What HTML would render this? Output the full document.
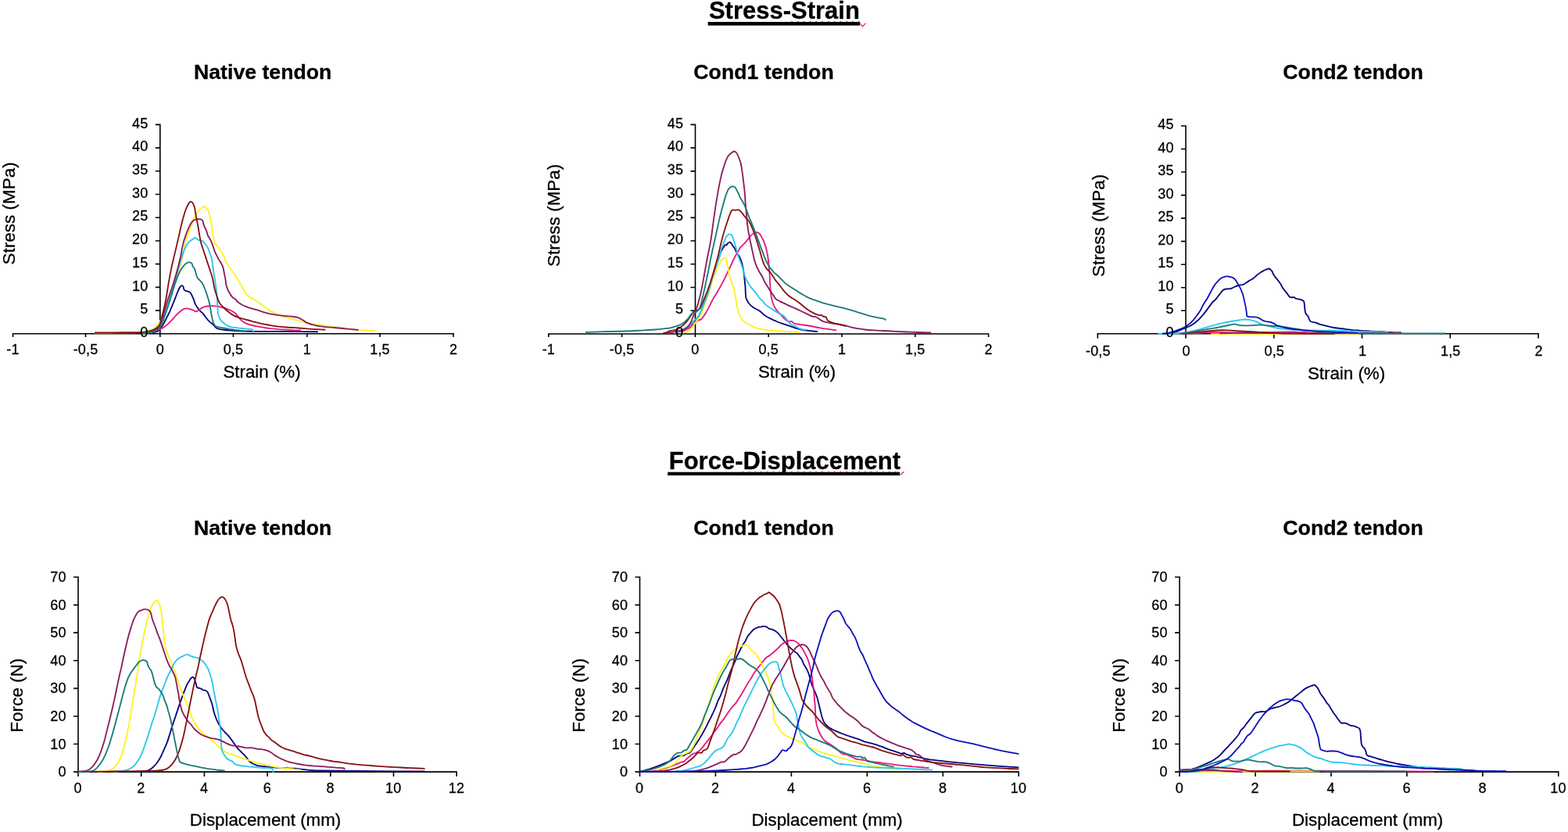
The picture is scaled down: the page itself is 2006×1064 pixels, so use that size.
<!DOCTYPE html>
<html lang="en">
<head>
<meta charset="utf-8">
<title>Stress-Strain and Force-Displacement curves</title>
<style>
html,body{margin:0;padding:0;background:#fff;}
body{width:2006px;height:1064px;overflow:hidden;}
svg{display:block;}
text{font-family:"Liberation Sans", Arial, Helvetica, sans-serif;fill:#000;stroke:#000;stroke-width:0.3px;stroke-linejoin:round;}
.tk{font-size:18px;letter-spacing:0.15px;}
.ax{font-size:22.3px;}
.ay{font-size:22.3px;letter-spacing:0.1px;}
.ti{font-size:26.7px;font-weight:bold;}
.se{font-size:31.0px;font-weight:bold;}
.c{fill:none;stroke-width:1.85;stroke-linejoin:round;stroke-linecap:butt;}
.a{fill:none;stroke:#000;stroke-width:1.6;}
</style>
</head>
<body>
<svg width="2006" height="1064" viewBox="0 0 2006 1064" role="img" aria-label="Stress-Strain and Force-Displacement curves for native, Cond1 and Cond2 tendons">
<rect x="0" y="0" width="2006" height="1064" fill="#fff"/>

<text class="se" x="1003.4" y="23.5" text-anchor="middle">Stress-Strain</text>
<rect x="905.7" y="28.0" width="194.4" height="4.6" fill="#000"/>
<path d="M1012.3,27.7H1099.5" stroke="#e0201c" stroke-width="1.3" stroke-dasharray="1.5 6.3" fill="none"/>
<path d="M1100.2,29.9L1103.6,33.8L1107.4,29.6" stroke="#e0201c" stroke-width="1.2" fill="none"/>
<text class="se" x="1003.9" y="600.4" text-anchor="middle">Force-Displacement</text>
<rect x="854.2" y="603.7" width="297.0" height="4.3" fill="#000"/>
<path d="M949.8,603.4H1150.5" stroke="#e0201c" stroke-width="1.3" stroke-dasharray="1.5 6.3" fill="none"/>
<path d="M1152.0,607.4L1156.3,603.2" stroke="#e0201c" stroke-width="1.2" fill="none"/>
<g id="chart1">
<path class="a" d="M204.8,158.60V430.90M15.70,426.8H581.00M198.80,426.80H204.8M198.80,397.09H204.8M198.80,367.38H204.8M198.80,337.67H204.8M198.80,307.96H204.8M198.80,278.24H204.8M198.80,248.53H204.8M198.80,218.82H204.8M198.80,189.11H204.8M198.80,159.40H204.8M16.50,426.8V430.90M109.50,426.8V430.90M204.80,426.8V430.90M298.40,426.8V430.90M392.90,426.8V430.90M486.00,426.8V430.90M580.00,426.8V430.90"/>
<path class="c" stroke="#06067f" d="M183.5,425.9C184.9,425.8 189.9,425.8 192.2,425.6C194.6,425.5 196.1,425.3 197.8,424.9C199.4,424.5 200.7,424.3 202.0,423.4C203.4,422.5 204.5,421.2 205.8,419.6C207.0,418.0 208.3,415.9 209.6,413.6C210.8,411.4 212.1,408.6 213.3,406.1C214.6,403.6 215.8,401.3 217.1,398.6C218.3,395.8 219.6,392.5 220.8,389.6C222.1,386.6 223.3,383.6 224.4,380.8C225.5,378.0 226.6,374.9 227.6,372.5C228.6,370.2 229.7,367.9 230.6,366.6C231.5,365.4 232.2,365.1 232.9,365.1C233.5,365.1 233.9,365.7 234.4,366.6C234.8,367.5 235.0,369.5 235.5,370.4C236.0,371.3 236.6,371.5 237.4,371.9C238.1,372.3 239.1,372.4 240.0,372.6C240.9,372.9 241.8,372.8 242.6,373.4C243.4,374.0 244.1,375.0 244.7,376.1C245.3,377.2 245.9,378.5 246.5,379.9C247.1,381.2 247.7,382.7 248.3,384.3C248.9,385.9 249.3,387.9 250.2,389.6C251.0,391.2 252.2,392.7 253.2,394.1C254.2,395.4 255.0,396.6 256.2,397.8C257.3,399.0 258.8,399.9 259.9,401.2C261.0,402.5 261.9,404.0 262.9,405.3C263.9,406.7 264.9,408.0 265.9,409.1C266.9,410.2 267.8,411.1 268.9,412.1C270.1,413.1 271.6,414.0 272.7,415.1C273.8,416.2 274.7,417.6 275.7,418.5C276.7,419.4 277.2,419.9 278.7,420.4C280.2,420.9 282.0,421.1 284.7,421.5C287.5,421.9 291.0,422.3 295.3,422.6C299.5,423.0 305.3,423.3 310.3,423.5C315.3,423.7 320.2,423.7 325.3,423.8C330.5,423.8 334.5,423.8 341.4,423.8C348.3,423.8 355.9,423.9 366.8,423.9C377.7,424.0 400.1,424.2 406.8,424.2"/>
<path class="c" stroke="#e8187f" d="M185.0,425.9C186.5,425.7 191.7,425.2 194.3,424.6C196.9,424.1 199.0,423.1 200.8,422.5C202.6,421.8 203.6,421.4 205.0,420.8C206.5,420.1 207.9,419.6 209.6,418.5C211.2,417.4 213.1,415.9 214.8,414.4C216.6,412.8 218.3,411.0 220.1,409.1C221.8,407.2 223.6,404.9 225.3,403.1C227.1,401.3 229.0,399.5 230.6,398.2C232.2,396.9 233.7,395.8 235.1,395.2C236.5,394.6 237.6,394.4 238.9,394.4C240.1,394.4 241.3,394.8 242.6,395.2C244.0,395.6 245.9,396.2 247.1,396.7C248.4,397.2 249.1,398.4 250.2,398.4C251.2,398.5 251.9,397.8 253.2,397.1C254.4,396.3 256.2,394.9 257.7,394.1C259.2,393.2 260.4,392.6 262.2,392.2C263.9,391.7 266.2,391.6 268.2,391.4C270.2,391.3 272.2,391.2 274.2,391.3C276.2,391.4 278.2,391.8 280.2,392.2C282.2,392.6 284.2,393.1 286.2,393.7C288.2,394.3 290.4,395.2 292.3,395.9C294.1,396.7 296.0,397.4 297.5,398.2C299.0,399.0 300.2,399.8 301.3,400.8C302.4,401.9 303.3,403.3 304.3,404.6C305.3,405.8 306.3,407.3 307.3,408.4C308.3,409.4 309.0,410.1 310.3,411.0C311.6,411.9 313.1,412.9 314.8,413.6C316.6,414.4 318.4,414.9 320.8,415.5C323.2,416.1 326.3,416.8 329.1,417.4C331.9,417.9 335.2,418.5 337.8,418.9C340.4,419.3 341.9,419.6 344.6,419.9C347.3,420.2 350.5,420.6 354.1,420.9C357.7,421.2 362.2,421.4 366.2,421.6C370.2,421.9 375.1,422.1 378.2,422.3C381.3,422.4 383.8,422.4 385.0,422.4"/>
<path class="c" stroke="#fff21f" d="M121.0,425.6C125.9,425.5 141.0,425.5 150.4,425.4C159.8,425.3 171.2,425.4 177.4,425.1C183.7,424.8 185.0,424.3 188.0,423.6C191.0,423.0 193.4,422.3 195.5,421.2C197.5,420.1 199.1,418.3 200.3,417.0C201.6,415.8 202.2,414.7 203.0,413.6C203.8,412.6 204.2,412.4 205.0,410.6C205.9,408.8 207.0,405.8 208.1,403.1C209.1,400.3 209.9,397.2 211.1,394.1C212.2,390.9 213.6,387.4 214.8,384.3C216.1,381.1 217.3,378.4 218.6,375.2C219.9,371.9 221.2,369.0 222.7,364.8C224.2,360.7 226.0,355.0 227.6,350.1C229.2,345.1 231.0,339.1 232.1,335.0C233.2,331.0 233.7,329.0 234.4,325.8C235.0,322.6 235.3,319.2 236.1,315.6C236.8,312.0 237.8,307.7 238.9,304.1C240.0,300.6 241.5,297.4 242.6,294.4C243.8,291.4 244.6,288.8 245.6,286.1C246.6,283.3 247.6,280.1 248.7,277.8C249.7,275.6 250.6,274.1 251.7,272.6C252.7,271.1 253.7,269.9 254.7,268.8C255.7,267.7 256.7,266.5 257.7,265.8C258.7,265.0 260.0,264.6 260.7,264.3C261.4,264.0 261.2,263.8 261.8,264.1C262.4,264.5 263.4,265.4 264.1,266.2C264.8,266.9 265.4,267.7 265.9,268.8C266.5,269.9 266.9,270.9 267.4,272.6C267.9,274.2 268.5,276.4 268.9,278.6C269.4,280.7 269.7,283.1 270.1,285.3C270.5,287.6 270.8,289.7 271.2,292.1C271.6,294.5 272.0,297.4 272.3,299.6C272.7,301.9 273.0,303.6 273.5,305.6C273.9,307.6 274.3,310.3 275.0,311.6C275.6,313.0 276.3,312.9 277.2,313.9C278.1,314.9 279.2,316.3 280.2,317.7C281.2,319.0 282.4,320.8 283.2,322.2C284.1,323.6 284.6,324.6 285.3,326.0C286.0,327.3 286.6,328.7 287.4,330.5C288.2,332.3 288.8,334.4 290.0,336.5C291.2,338.7 293.0,341.2 294.5,343.3C296.0,345.4 297.6,347.3 299.0,349.3C300.4,351.3 301.5,353.3 302.8,355.3C304.0,357.3 305.3,359.2 306.5,361.4C307.8,363.5 309.2,366.1 310.3,368.1C311.4,370.1 312.2,371.8 313.3,373.4C314.4,375.0 315.6,376.5 317.1,377.9C318.6,379.3 320.6,380.5 322.3,381.6C324.1,382.8 325.9,383.6 327.6,384.7C329.3,385.7 330.9,386.8 332.7,388.2C334.5,389.5 336.2,391.0 338.3,392.5C340.4,394.0 342.7,395.7 345.1,397.1C347.5,398.5 349.6,399.5 352.6,400.9C355.6,402.3 359.9,404.3 363.2,405.4C366.4,406.5 369.2,406.9 372.2,407.7C375.2,408.4 378.2,409.0 381.2,409.9C384.2,410.8 387.2,412.2 390.2,412.9C393.2,413.7 395.7,413.9 399.2,414.4C402.8,414.9 407.3,415.4 411.3,415.9C415.3,416.4 419.3,416.9 423.3,417.4C427.3,417.9 430.8,418.3 435.3,418.9C439.9,419.6 446.4,420.7 450.4,421.2C454.4,421.7 456.1,421.8 459.4,421.9C462.7,422.1 466.4,422.1 469.9,422.3C473.4,422.4 478.7,422.6 480.4,422.7"/>
<path class="c" stroke="#2cc6f0" d="M182.7,425.6C184.3,425.5 190.0,425.3 192.5,425.0C194.9,424.7 196.0,424.2 197.3,423.7C198.6,423.3 199.4,423.0 200.4,422.3C201.4,421.6 202.5,421.1 203.5,419.6C204.6,418.2 205.5,416.1 206.5,413.6C207.5,411.1 208.5,407.6 209.6,404.6C210.6,401.6 211.6,398.6 212.6,395.6C213.6,392.6 214.4,390.0 215.6,386.5C216.7,383.1 217.8,379.7 219.3,374.8C220.8,369.9 222.9,362.8 224.6,356.9C226.3,351.0 228.2,344.1 229.5,339.4C230.8,334.8 231.5,332.1 232.5,329.1C233.4,326.1 234.2,323.8 235.1,321.4C236.0,319.0 237.1,316.5 238.1,314.7C239.1,312.8 240.1,311.3 241.1,310.1C242.1,309.0 243.1,308.3 244.1,307.5C245.1,306.8 246.2,306.3 247.1,305.6C248.1,305.0 248.9,303.7 249.8,303.8C250.6,303.8 251.5,305.4 252.4,306.0C253.3,306.6 254.3,307.1 255.4,307.5C256.5,307.9 258.0,307.6 259.2,308.3C260.3,309.0 261.2,310.5 262.2,311.6C263.2,312.8 264.3,313.9 265.2,315.4C266.1,316.9 266.8,319.2 267.4,320.7C268.0,322.2 268.3,323.0 268.8,324.3C269.2,325.5 269.5,326.3 270.0,328.1C270.5,329.9 271.1,332.0 271.6,335.0C272.1,338.1 272.5,342.6 273.1,346.3C273.6,350.1 274.4,354.1 275.0,357.6C275.5,361.1 275.9,364.5 276.3,367.3C276.7,370.1 277.0,372.1 277.2,374.4C277.5,376.8 277.6,378.9 277.7,381.3C277.9,383.7 278.0,386.4 278.1,388.8C278.3,391.2 278.4,393.4 278.6,395.6C278.7,397.7 278.7,399.7 279.1,401.6C279.5,403.5 280.2,405.2 281.0,406.8C281.8,408.5 282.9,410.1 284.0,411.4C285.1,412.6 286.6,413.5 287.7,414.4C288.9,415.2 289.5,416.0 290.8,416.6C292.0,417.2 293.3,417.7 295.3,418.1C297.3,418.6 300.3,418.9 302.8,419.2C305.3,419.6 307.8,419.8 310.3,420.0C312.8,420.2 315.7,420.5 317.8,420.8C319.9,421.0 321.9,420.7 322.9,421.5C323.9,422.3 323.7,424.9 323.8,425.6"/>
<path class="c" stroke="#8c1c5e" d="M181.9,425.1C183.2,425.0 187.3,424.6 189.5,424.2C191.6,423.9 193.3,423.5 194.9,423.1C196.5,422.6 197.8,422.4 199.1,421.7C200.4,421.0 201.7,420.5 202.8,418.9C203.9,417.3 204.8,414.7 205.8,412.1C206.8,409.5 207.8,406.3 208.8,403.1C209.8,399.8 210.8,395.9 211.8,392.6C212.8,389.2 213.8,385.9 214.8,382.8C215.8,379.7 216.8,377.4 218.0,373.9C219.2,370.3 220.5,366.9 222.1,361.6C223.7,356.4 226.1,348.4 227.6,342.6C229.1,336.7 230.4,330.8 231.4,326.6C232.3,322.4 232.4,320.3 233.0,317.3C233.7,314.3 234.3,311.6 235.1,308.6C236.0,305.7 237.1,302.4 238.1,299.6C239.1,296.9 240.1,294.4 241.1,292.1C242.1,289.9 243.1,287.7 244.1,286.1C245.1,284.5 246.1,283.2 247.1,282.3C248.1,281.5 249.1,281.2 250.2,280.8C251.2,280.5 252.2,280.3 253.2,280.2C254.2,280.2 255.3,280.3 256.2,280.4C257.0,280.6 257.9,280.8 258.4,281.2C259.0,281.6 259.2,282.0 259.6,283.1C259.9,284.1 260.2,286.2 260.7,287.6C261.1,289.0 261.6,290.1 262.2,291.4C262.7,292.6 263.4,293.5 264.1,295.1C264.7,296.7 265.2,299.5 265.9,301.1C266.6,302.8 267.4,303.5 268.2,304.9C269.0,306.3 269.7,307.6 270.4,309.4C271.2,311.2 272.0,313.3 272.7,315.4C273.5,317.5 274.2,320.3 275.0,322.2C275.7,324.1 276.4,325.1 277.2,326.7C278.0,328.3 278.8,329.9 279.8,331.6C280.8,333.4 282.3,335.5 283.2,337.3C284.2,339.1 284.9,340.4 285.5,342.6C286.1,344.7 286.5,347.6 287.0,350.1C287.5,352.6 288.1,355.3 288.5,357.6C288.9,359.8 288.8,361.6 289.2,363.6C289.7,365.6 290.4,367.7 291.1,369.6C291.9,371.5 292.7,373.1 293.8,374.9C294.8,376.6 296.3,378.8 297.5,380.1C298.8,381.5 300.2,381.8 301.3,382.8C302.4,383.8 303.0,385.1 304.3,386.2C305.5,387.2 307.0,388.2 308.8,389.2C310.6,390.2 312.7,391.3 314.8,392.2C316.9,393.1 319.1,393.7 321.6,394.4C324.1,395.2 326.7,395.8 329.7,396.7C332.7,397.6 336.0,398.9 339.6,399.8C343.2,400.8 347.2,401.7 351.1,402.4C355.1,403.1 359.2,403.5 363.2,403.9C367.2,404.3 372.2,404.6 375.2,405.0C378.2,405.3 379.2,405.5 381.2,406.2C383.2,406.9 385.2,408.0 387.2,409.2C389.2,410.3 390.7,411.8 393.2,412.9C395.7,414.1 398.8,415.1 402.3,415.9C405.8,416.8 410.3,417.4 414.3,417.9C418.3,418.4 422.3,418.6 426.3,418.9C430.3,419.3 434.3,419.6 438.4,420.0C442.4,420.4 447.0,420.9 450.4,421.2C453.8,421.5 457.3,421.8 458.6,421.9"/>
<path class="c" stroke="#881210" d="M121.0,425.4C125.9,425.4 140.5,425.4 150.4,425.3C160.3,425.2 173.9,425.1 180.4,424.8C187.0,424.6 187.0,424.2 189.5,423.8C191.9,423.3 193.5,422.7 195.2,422.0C197.0,421.3 198.7,420.6 200.2,419.5C201.7,418.3 203.2,417.1 204.3,415.1C205.3,413.1 205.8,410.3 206.5,407.6C207.3,404.8 208.0,401.7 208.8,398.6C209.6,395.4 210.3,392.4 211.1,388.8C211.8,385.2 212.5,381.5 213.3,376.9C214.1,372.2 214.9,366.4 215.9,360.7C216.9,355.0 218.3,347.7 219.3,342.6C220.4,337.4 221.3,333.8 222.3,329.6C223.3,325.3 224.3,321.4 225.3,317.1C226.3,312.9 227.3,308.6 228.3,304.1C229.4,299.7 230.3,294.9 231.3,290.6C232.4,286.3 233.4,282.2 234.4,278.6C235.4,274.9 236.4,271.6 237.4,268.8C238.4,266.0 239.5,263.7 240.4,262.0C241.3,260.3 242.1,259.3 242.6,258.6C243.2,258.0 243.3,257.9 243.8,257.9C244.3,257.9 245.0,258.1 245.6,258.6C246.3,259.2 247.0,260.1 247.5,261.3C248.1,262.5 248.6,263.9 249.0,265.8C249.5,267.7 249.8,270.3 250.2,272.6C250.5,274.8 250.8,277.1 251.3,279.3C251.7,281.6 252.3,283.5 252.8,286.1C253.3,288.7 253.8,292.1 254.3,295.1C254.8,298.1 255.3,301.5 255.8,304.1C256.3,306.8 256.7,308.8 257.3,310.9C257.9,313.0 258.5,314.9 259.2,316.9C259.8,319.0 260.6,321.1 261.2,323.1C261.9,325.2 262.5,327.0 263.3,329.4C264.1,331.7 265.0,334.5 265.9,337.3C266.9,340.1 268.0,343.4 268.9,346.3C269.9,349.2 270.9,352.0 271.6,354.6C272.3,357.2 272.6,359.6 273.1,362.1C273.6,364.6 274.0,367.3 274.6,369.6C275.2,372.0 275.9,374.2 276.6,376.3C277.3,378.4 278.0,380.5 278.7,382.4C279.5,384.3 280.0,386.1 281.0,387.7C282.0,389.2 283.4,390.4 284.7,391.8C286.1,393.2 287.7,394.9 289.2,396.3C290.8,397.7 292.3,399.0 293.8,400.1C295.3,401.2 296.5,402.1 298.3,403.1C300.0,404.0 302.3,405.0 304.3,405.7C306.3,406.5 308.0,407.0 310.3,407.6C312.6,408.2 315.3,408.8 317.8,409.5C320.3,410.2 322.8,411.0 325.3,411.7C327.9,412.4 330.4,413.0 333.3,413.6C336.2,414.2 339.3,414.9 342.8,415.5C346.3,416.1 350.2,416.9 354.1,417.4C358.0,417.9 362.2,418.2 366.2,418.5C370.2,418.8 374.2,419.0 378.2,419.2C382.2,419.5 385.7,419.8 390.2,420.1C394.7,420.5 400.9,420.9 405.3,421.2C409.6,421.4 414.7,421.6 416.5,421.6"/>
<path class="c" stroke="#1a7a78" d="M181.9,425.6C183.5,425.5 188.7,425.3 191.0,425.1C193.3,424.9 194.4,424.5 195.6,424.3C196.9,424.0 197.4,423.9 198.5,423.5C199.6,423.1 200.9,422.8 202.0,421.9C203.1,421.0 204.0,419.7 205.0,418.1C206.0,416.5 207.0,414.6 208.1,412.1C209.1,409.6 210.0,406.1 211.1,403.1C212.1,400.1 213.1,397.1 214.1,394.1C215.1,391.1 216.0,388.4 217.1,385.0C218.1,381.7 219.2,378.1 220.5,374.0C221.7,370.0 223.1,365.0 224.6,360.9C226.0,356.8 227.6,352.5 229.1,349.3C230.6,346.1 232.1,343.9 233.6,341.8C235.1,339.7 236.8,338.0 238.1,336.9C239.4,335.9 240.4,335.5 241.5,335.4C242.6,335.3 243.8,335.7 244.5,336.2C245.3,336.6 245.7,337.4 246.0,338.1C246.3,338.7 246.0,339.4 246.4,340.3C246.8,341.2 248.0,342.1 248.7,343.3C249.3,344.6 249.7,346.2 250.2,347.8C250.7,349.4 251.1,351.7 251.7,353.1C252.2,354.5 252.4,355.1 253.2,356.1C253.9,357.1 255.2,358.0 256.2,359.1C257.2,360.2 258.3,361.4 259.2,362.9C260.1,364.3 260.7,366.1 261.5,368.0C262.3,369.9 263.1,372.1 263.9,374.2C264.6,376.3 265.3,378.4 265.9,380.5C266.6,382.7 267.3,385.2 267.8,387.3C268.3,389.4 268.6,391.2 268.9,393.3C269.3,395.4 269.7,397.9 270.1,400.1C270.5,402.2 270.8,404.1 271.2,406.1C271.6,408.1 272.1,410.4 272.7,412.1C273.3,413.8 274.2,415.3 275.0,416.2C275.7,417.2 275.7,417.2 277.2,417.7C278.7,418.2 281.0,418.7 284.0,419.2C287.0,419.8 291.5,420.6 295.3,421.1C299.0,421.7 303.2,422.2 306.5,422.6C309.9,423.1 314.1,423.6 315.6,423.8"/>
<text class="ti" x="336.2" y="101.0" text-anchor="middle">Native tendon</text>
<text class="ax" x="335.0" y="482.8" text-anchor="middle">Strain (%)</text>
<text class="ay" transform="translate(19.2,272.9) rotate(-90)" text-anchor="middle">Stress (MPa)</text>
<text class="tk" x="189.4" y="430.9" text-anchor="end">0</text>
<text class="tk" x="189.4" y="401.2" text-anchor="end">5</text>
<text class="tk" x="189.4" y="371.5" text-anchor="end">10</text>
<text class="tk" x="189.4" y="341.8" text-anchor="end">15</text>
<text class="tk" x="189.4" y="312.1" text-anchor="end">20</text>
<text class="tk" x="189.4" y="282.3" text-anchor="end">25</text>
<text class="tk" x="189.4" y="252.6" text-anchor="end">30</text>
<text class="tk" x="189.4" y="222.9" text-anchor="end">35</text>
<text class="tk" x="189.4" y="193.2" text-anchor="end">40</text>
<text class="tk" x="189.4" y="163.5" text-anchor="end">45</text>
<text class="tk" x="16.5" y="452.8" text-anchor="middle">-1</text>
<text class="tk" x="109.5" y="452.8" text-anchor="middle">-0,5</text>
<text class="tk" x="204.8" y="452.8" text-anchor="middle">0</text>
<text class="tk" x="298.4" y="452.8" text-anchor="middle">0,5</text>
<text class="tk" x="392.9" y="452.8" text-anchor="middle">1</text>
<text class="tk" x="486.0" y="452.8" text-anchor="middle">1,5</text>
<text class="tk" x="580.0" y="452.8" text-anchor="middle">2</text>
</g>
<g id="chart2">
<path class="a" d="M889.5,158.60V431.10M701.00,427.0H1265.40M883.50,427.00H889.5M883.50,397.27H889.5M883.50,367.53H889.5M883.50,337.80H889.5M883.50,308.07H889.5M883.50,278.33H889.5M883.50,248.60H889.5M883.50,218.87H889.5M883.50,189.13H889.5M883.50,159.40H889.5M701.80,427.0V431.10M795.60,427.0V431.10M889.40,427.0V431.10M983.20,427.0V431.10M1077.00,427.0V431.10M1170.80,427.0V431.10M1264.60,427.0V431.10"/>
<path class="c" stroke="#06067f" d="M865.0,425.6C865.8,425.3 868.0,424.4 869.5,423.8C871.1,423.1 872.6,422.4 874.1,421.5C875.6,420.6 877.1,419.5 878.6,418.5C880.1,417.5 881.8,416.5 883.1,415.5C884.3,414.5 885.1,413.5 886.1,412.5C887.1,411.5 888.1,410.5 889.1,409.5C890.1,408.5 891.1,407.7 892.1,406.5C893.1,405.2 894.1,403.8 895.1,401.9C896.1,400.1 897.1,397.6 898.1,395.2C899.1,392.8 900.1,390.2 901.1,387.7C902.1,385.2 903.2,382.5 904.1,380.1C905.0,377.8 905.8,375.8 906.5,373.5C907.2,371.2 907.6,369.3 908.4,366.3C909.2,363.4 910.2,359.6 911.4,355.7C912.5,351.8 914.0,346.6 915.1,342.9C916.3,339.2 917.4,336.2 918.3,333.6C919.2,331.0 919.8,329.4 920.6,327.4C921.3,325.3 921.8,323.3 922.6,321.4C923.5,319.6 924.8,317.5 925.6,316.2C926.5,314.8 927.3,313.6 927.9,313.2C928.5,312.7 928.9,313.8 929.4,313.5C929.9,313.2 930.3,311.9 930.9,311.3C931.5,310.7 932.4,309.8 933.2,309.8C933.9,309.7 934.7,310.1 935.4,310.9C936.2,311.7 936.9,313.5 937.7,314.7C938.4,315.8 939.3,316.7 939.9,317.7C940.5,318.7 940.9,319.6 941.4,320.7C942.0,321.8 942.5,323.2 943.1,324.3C943.7,325.3 944.5,326.0 945.2,327.1C945.9,328.3 946.8,329.6 947.4,331.3C948.1,333.0 948.8,335.2 949.3,337.3C949.9,339.4 950.4,341.7 950.8,344.1C951.3,346.4 951.6,349.1 952.0,351.6C952.3,354.1 952.5,356.6 952.7,359.1C953.0,361.6 953.3,364.1 953.5,366.6C953.6,369.1 953.7,371.9 953.8,374.1C954.0,376.4 953.9,378.5 954.2,380.1C954.5,381.8 955.1,382.7 955.7,383.9C956.3,385.2 957.2,386.6 958.0,387.7C958.8,388.8 959.7,389.8 960.5,390.6C961.3,391.4 961.9,391.8 962.9,392.5C963.9,393.2 965.2,394.0 966.5,394.8C967.9,395.6 969.7,396.2 971.0,397.1C972.4,397.9 973.7,399.1 974.8,400.1C975.9,401.1 976.6,402.1 977.8,403.1C979.1,404.0 980.7,404.8 982.3,405.7C984.0,406.6 986.0,407.6 987.6,408.4C989.2,409.1 990.4,409.6 991.7,410.2C993.0,410.8 993.8,411.3 995.6,412.0C997.4,412.7 999.9,413.5 1002.6,414.4C1005.2,415.4 1008.6,416.4 1011.6,417.4C1014.6,418.4 1017.6,419.6 1020.6,420.4C1023.6,421.3 1026.4,421.9 1029.6,422.4C1032.9,422.9 1037.4,423.2 1040.2,423.5C1042.9,423.8 1045.2,424.1 1046.2,424.2"/>
<path class="c" stroke="#e8187f" d="M871.0,424.1C871.8,423.9 874.1,423.3 875.6,422.6C877.1,422.0 878.7,421.1 880.1,420.4C881.5,419.6 882.6,419.1 883.8,418.1C885.1,417.1 886.3,415.6 887.6,414.4C888.8,413.2 890.2,411.9 891.4,411.0C892.5,410.1 893.5,409.5 894.4,409.1C895.2,408.7 895.7,409.3 896.6,408.7C897.5,408.1 898.6,406.7 899.6,405.3C900.6,404.0 901.6,402.5 902.6,400.8C903.6,399.2 904.6,397.4 905.6,395.6C906.6,393.7 907.6,391.6 908.6,389.6C909.7,387.5 910.6,385.4 911.6,383.5C912.7,381.6 913.6,380.0 914.7,378.3C915.7,376.6 916.7,375.2 917.8,373.3C918.9,371.4 920.1,369.3 921.4,366.9C922.7,364.5 924.4,361.4 925.6,359.1C926.8,356.8 927.6,355.2 928.6,353.1C929.7,350.9 930.6,348.4 931.6,346.3C932.7,344.2 933.7,342.4 934.7,340.3C935.7,338.2 936.7,335.7 937.7,333.5C938.7,331.4 939.8,329.2 940.7,327.5C941.6,325.9 942.4,324.8 943.1,323.6C943.8,322.3 944.3,321.4 945.0,320.1C945.7,318.9 946.5,317.3 947.4,316.2C948.3,315.0 949.4,314.2 950.5,313.2C951.5,312.2 952.5,311.3 953.5,310.1C954.5,309.0 955.5,307.6 956.5,306.4C957.5,305.1 958.5,303.8 959.5,302.6C960.5,301.5 961.5,300.4 962.5,299.6C963.5,298.8 964.4,298.1 965.5,297.7C966.6,297.4 968.1,297.1 969.2,297.4C970.4,297.7 971.4,298.6 972.3,299.6C973.1,300.6 973.8,302.0 974.5,303.4C975.3,304.8 976.0,306.1 976.8,307.9C977.5,309.6 978.4,312.0 979.0,313.9C979.6,315.8 980.0,317.2 980.5,319.2C981.0,321.1 981.5,323.3 981.9,325.8C982.4,328.2 982.7,330.9 983.1,333.7C983.4,336.5 983.6,339.6 983.9,342.6C984.2,345.5 984.5,348.6 984.7,351.6C984.8,354.6 984.9,357.8 985.0,360.6C985.2,363.4 985.2,365.6 985.4,368.1C985.6,370.6 985.9,373.3 986.2,375.6C986.5,378.0 986.9,380.4 987.3,382.4C987.7,384.4 988.2,386.0 988.8,387.7C989.4,389.3 989.8,390.7 990.7,392.3C991.6,393.9 992.8,395.6 994.2,397.4C995.7,399.2 997.7,401.2 999.5,403.2C1001.4,405.1 1003.8,407.8 1005.6,409.2C1007.3,410.5 1008.8,411.1 1010.1,411.4C1011.3,411.7 1012.1,410.6 1013.1,411.0C1014.1,411.4 1014.1,413.0 1016.1,413.7C1018.1,414.4 1021.6,414.6 1025.1,415.2C1028.6,415.7 1033.1,416.3 1037.1,417.0C1041.2,417.7 1045.2,418.7 1049.2,419.4C1053.2,420.1 1057.7,420.7 1061.2,421.2C1064.7,421.7 1068.7,422.2 1070.2,422.4"/>
<path class="c" stroke="#fff21f" d="M872.6,425.6C873.3,425.5 875.6,425.0 877.1,424.5C878.6,424.0 880.3,423.3 881.6,422.6C882.8,421.9 883.6,421.5 884.6,420.4C885.6,419.3 886.6,417.4 887.6,415.9C888.6,414.4 889.6,412.7 890.6,411.4C891.6,410.0 892.6,409.1 893.6,407.6C894.6,406.1 895.6,404.5 896.6,402.3C897.6,400.2 898.6,397.4 899.6,394.8C900.6,392.2 901.6,389.4 902.6,386.5C903.7,383.6 904.7,380.7 905.8,377.4C906.8,374.1 908.0,370.4 909.2,366.7C910.4,363.0 911.6,358.9 912.9,355.3C914.1,351.8 915.4,348.6 916.6,345.6C917.9,342.6 919.1,339.7 920.4,337.3C921.6,334.9 923.0,332.6 924.1,331.3C925.3,330.0 926.3,329.6 927.1,329.6C928.0,329.6 928.5,330.1 929.0,331.3C929.5,332.4 929.7,334.4 930.1,336.5C930.6,338.7 931.1,341.6 931.6,344.1C932.2,346.6 932.5,349.1 933.2,351.6C933.8,354.1 934.7,356.8 935.4,359.1C936.2,361.4 937.0,363.0 937.7,365.1C938.4,367.2 939.0,369.4 939.5,371.9C940.1,374.4 940.6,377.5 941.0,380.1C941.5,382.8 941.8,385.5 942.2,387.7C942.5,389.8 942.8,391.6 943.2,393.2C943.6,394.9 943.9,395.9 944.4,397.5C944.9,399.2 945.4,401.3 946.2,403.1C947.1,404.9 948.1,406.8 949.2,408.4C950.4,409.9 951.6,411.1 953.0,412.1C954.4,413.1 956.0,413.6 957.5,414.4C959.0,415.1 960.8,415.9 962.0,416.6C963.3,417.4 963.7,418.3 965.0,418.9C966.4,419.4 968.2,419.6 970.3,420.0C972.4,420.4 975.3,421.1 977.8,421.5C980.3,421.9 983.1,422.4 985.3,422.6C987.6,422.9 989.4,422.8 991.5,422.9C993.7,423.0 995.2,423.1 998.3,423.3C1001.3,423.5 1006.0,423.9 1010.1,424.2C1014.2,424.5 1020.7,424.8 1022.9,425.0"/>
<path class="c" stroke="#2cc6f0" d="M865.0,425.3C865.8,424.9 868.0,424.1 869.5,423.4C871.1,422.7 872.6,422.0 874.1,421.1C875.6,420.3 877.1,419.1 878.6,418.1C880.1,417.1 881.8,416.1 883.1,415.1C884.3,414.1 885.1,413.1 886.1,412.1C887.1,411.1 888.1,410.1 889.1,409.1C890.1,408.1 891.1,407.3 892.1,406.1C893.1,404.8 894.1,403.5 895.1,401.6C896.1,399.7 897.1,397.2 898.1,394.8C899.1,392.4 900.1,389.8 901.1,387.3C902.1,384.8 903.2,382.1 904.1,379.8C905.0,377.4 905.8,375.4 906.5,373.1C907.2,370.8 907.6,368.9 908.4,366.0C909.2,363.0 910.2,359.2 911.4,355.3C912.5,351.4 913.9,346.2 915.1,342.6C916.3,338.9 917.5,336.0 918.5,333.3C919.5,330.7 920.3,329.1 920.9,326.7C921.6,324.4 922.0,321.4 922.6,319.2C923.3,316.9 924.1,315.2 924.9,313.2C925.6,311.2 926.4,308.9 927.1,307.1C927.9,305.4 928.6,303.8 929.4,302.6C930.2,301.4 930.9,300.5 931.6,300.0C932.4,299.5 933.2,299.4 933.9,299.6C934.7,299.8 935.5,300.4 936.2,301.1C936.8,301.9 937.2,302.9 937.7,304.1C938.2,305.4 938.7,307.0 939.2,308.6C939.7,310.3 940.2,312.2 940.7,313.9C941.2,315.7 941.7,317.6 942.2,319.2C942.6,320.8 942.9,322.1 943.3,323.5C943.7,324.9 943.9,325.8 944.4,327.5C945.0,329.2 945.8,331.1 946.7,333.5C947.6,335.9 948.9,339.3 949.7,341.8C950.5,344.3 951.0,346.4 951.6,348.6C952.2,350.7 952.6,352.6 953.5,354.6C954.3,356.6 955.3,358.6 956.5,360.6C957.6,362.6 959.0,364.9 960.2,366.6C961.5,368.4 962.7,369.6 964.0,371.1C965.2,372.6 966.5,374.0 967.7,375.6C969.0,377.3 970.2,379.4 971.5,380.9C972.8,382.4 974.0,383.3 975.3,384.7C976.5,386.0 977.9,388.0 979.0,389.2C980.2,390.4 981.2,391.1 982.3,391.9C983.4,392.7 984.2,393.0 985.6,393.8C987.0,394.7 988.7,396.0 990.5,397.1C992.4,398.3 994.5,399.8 996.5,400.9C998.5,402.0 1000.8,402.5 1002.6,403.9C1004.3,405.3 1005.6,407.4 1007.1,409.2C1008.6,410.9 1009.8,413.1 1011.6,414.4C1013.3,415.8 1015.6,416.4 1017.6,417.4C1019.6,418.4 1021.5,419.7 1023.6,420.4C1025.7,421.2 1029.3,421.7 1030.4,421.9"/>
<path class="c" stroke="#8c1c5e" d="M852.9,426.0C853.9,425.9 856.8,425.5 859.0,425.1C861.1,424.7 863.6,424.2 866.1,423.7C868.6,423.1 871.7,422.6 874.0,421.7C876.4,420.8 878.4,419.7 880.1,418.1C881.7,416.5 882.7,414.4 883.8,412.1C885.0,409.9 885.9,407.0 886.8,404.6C887.8,402.2 888.7,399.8 889.5,397.8C890.3,395.8 891.0,394.4 891.7,392.6C892.4,390.7 893.0,388.8 893.6,386.5C894.2,384.3 894.9,381.4 895.5,379.0C896.1,376.7 896.5,375.1 897.0,372.5C897.6,370.0 898.1,367.3 898.7,363.9C899.4,360.5 900.1,356.4 900.8,352.3C901.6,348.3 902.4,343.5 903.1,339.6C903.8,335.6 904.4,332.6 905.1,328.8C905.9,325.1 906.7,321.2 907.5,317.1C908.3,313.0 909.1,309.1 909.9,304.1C910.6,299.2 911.4,293.1 912.1,287.6C912.9,282.1 913.7,275.8 914.4,271.1C915.0,266.3 915.6,263.1 916.2,259.2C916.9,255.3 917.5,251.4 918.2,247.5C918.9,243.6 919.6,239.4 920.4,235.6C921.1,231.9 921.8,228.6 922.6,225.1C923.5,221.6 924.6,217.8 925.6,214.6C926.6,211.3 927.6,208.1 928.6,205.6C929.7,203.1 930.5,201.2 931.6,199.6C932.8,197.9 934.2,196.8 935.4,195.8C936.7,194.8 938.1,193.7 939.2,193.5C940.2,193.4 941.0,194.2 941.8,195.0C942.6,195.9 943.4,197.4 944.1,198.8C944.8,200.2 945.3,201.6 945.9,203.3C946.6,205.1 947.3,207.2 947.8,209.3C948.3,211.4 948.6,213.7 949.0,216.1C949.3,218.5 949.7,220.9 950.1,223.6C950.5,226.4 950.8,229.6 951.2,232.6C951.6,235.6 952.0,238.8 952.3,241.7C952.6,244.5 952.9,247.4 953.1,249.6C953.2,251.7 953.2,252.9 953.3,254.5C953.4,256.1 953.5,257.3 953.6,259.0C953.8,260.8 954.0,262.5 954.2,265.0C954.4,267.5 954.7,271.1 955.0,274.1C955.2,277.1 955.4,280.1 955.7,283.1C956.0,286.1 956.4,289.1 956.8,292.1C957.3,295.1 957.8,298.1 958.4,301.1C958.9,304.1 959.6,307.3 960.2,310.1C960.8,313.0 961.4,315.8 961.9,318.1C962.4,320.3 962.8,322.0 963.1,323.6C963.5,325.1 963.5,325.6 964.0,327.5C964.4,329.4 965.1,332.7 965.9,335.0C966.6,337.4 967.6,339.7 968.5,341.8C969.4,343.9 970.4,345.8 971.5,347.8C972.6,349.8 974.1,351.7 975.3,353.8C976.4,356.0 977.1,358.5 978.3,360.6C979.4,362.7 980.8,364.6 982.0,366.6C983.3,368.6 984.5,370.8 985.8,372.6C987.0,374.5 988.4,376.3 989.5,377.9C990.7,379.5 991.2,381.2 992.6,382.4C993.9,383.7 995.9,384.5 997.8,385.4C999.7,386.4 1001.8,387.1 1003.8,388.1C1005.8,389.0 1007.9,390.1 1009.9,391.1C1011.8,392.0 1013.6,392.6 1015.5,393.5C1017.5,394.4 1019.3,395.2 1021.7,396.3C1024.0,397.4 1026.5,398.7 1029.6,400.1C1032.7,401.6 1038.0,404.2 1040.2,405.0C1042.3,405.7 1041.2,404.2 1042.4,404.7C1043.7,405.1 1046.0,406.7 1047.7,407.7C1049.3,408.7 1049.9,409.8 1052.2,410.7C1054.4,411.6 1058.2,412.3 1061.2,412.9C1064.2,413.6 1066.7,413.8 1070.2,414.4C1073.7,415.1 1078.2,415.8 1082.3,416.7C1086.3,417.6 1090.3,418.9 1094.3,419.7C1098.3,420.5 1102.3,421.0 1106.3,421.5C1110.3,422.0 1114.3,422.2 1118.3,422.4C1122.4,422.7 1125.9,422.8 1130.4,423.0C1134.9,423.2 1140.4,423.5 1145.4,423.8C1150.4,424.0 1155.4,424.3 1160.5,424.5C1165.5,424.7 1170.4,424.8 1175.5,425.0C1180.6,425.1 1188.6,425.3 1191.3,425.4"/>
<path class="c" stroke="#881210" d="M848.4,426.0C849.0,425.9 850.9,425.7 851.8,425.4C852.8,425.2 853.2,425.0 854.1,424.6C855.1,424.1 856.2,423.4 857.5,423.0C858.8,422.6 860.5,422.6 862.0,422.3C863.5,421.9 865.0,421.8 866.5,421.1C868.0,420.4 869.5,419.2 871.0,418.1C872.6,417.0 874.1,415.9 875.6,414.4C877.1,412.9 878.7,410.9 880.1,409.1C881.5,407.3 882.7,405.5 883.8,403.8C885.0,402.2 885.8,400.3 886.8,399.3C887.8,398.3 888.8,398.3 889.9,397.8C890.9,397.3 891.9,396.9 892.9,396.3C893.9,395.7 894.9,395.6 895.9,394.1C896.9,392.6 897.8,389.7 898.9,387.3C899.9,384.9 900.9,382.4 902.0,379.7C903.1,377.0 904.2,374.2 905.4,371.0C906.6,367.9 907.9,364.5 909.1,360.6C910.3,356.7 911.6,352.1 912.9,347.8C914.1,343.6 915.6,338.6 916.6,335.0C917.6,331.5 918.2,329.1 918.9,326.6C919.5,324.0 919.7,322.5 920.4,319.8C921.0,317.0 921.8,313.6 922.6,310.1C923.5,306.7 924.6,302.4 925.6,298.9C926.6,295.4 927.8,291.9 928.6,289.1C929.5,286.3 930.1,284.6 930.9,282.3C931.7,280.1 932.4,277.6 933.2,275.6C933.9,273.6 934.7,271.5 935.4,270.3C936.2,269.1 936.7,268.7 937.7,268.4C938.7,268.2 940.3,268.9 941.4,268.8C942.6,268.7 943.6,267.9 944.4,268.1C945.3,268.2 945.9,268.9 946.7,269.6C947.4,270.2 948.2,270.9 949.0,271.8C949.7,272.7 950.4,273.8 951.2,274.8C952.0,275.8 952.6,276.8 953.5,277.8C954.3,278.8 955.6,279.8 956.5,280.8C957.3,281.8 958.0,282.6 958.7,283.8C959.5,285.1 960.2,286.7 961.0,288.4C961.7,290.0 962.5,291.7 963.2,293.6C964.0,295.5 964.7,297.5 965.5,299.6C966.2,301.8 967.0,304.0 967.7,306.4C968.5,308.8 969.3,311.7 970.0,313.9C970.7,316.2 971.3,318.0 971.9,319.9C972.4,321.9 972.8,323.4 973.4,325.4C973.9,327.4 974.6,329.9 975.3,332.0C975.9,334.1 976.6,336.2 977.5,338.1C978.4,339.9 979.3,341.7 980.5,343.3C981.8,344.9 983.7,346.2 985.0,347.8C986.4,349.4 987.5,351.2 988.8,353.1C990.1,355.0 991.2,357.2 992.6,359.1C993.9,361.0 995.6,362.5 997.1,364.4C998.6,366.2 1000.1,368.5 1001.6,370.4C1003.1,372.3 1004.5,374.0 1006.1,375.6C1007.7,377.3 1009.5,378.8 1011.4,380.1C1013.2,381.5 1014.9,382.1 1017.1,383.5C1019.2,384.8 1021.5,386.4 1024.1,388.4C1026.7,390.4 1029.7,393.6 1032.6,395.6C1035.6,397.7 1039.1,399.6 1041.7,400.9C1044.2,402.2 1046.2,402.8 1047.7,403.2C1049.2,403.5 1049.7,402.6 1050.7,402.9C1051.7,403.2 1052.7,404.5 1053.7,405.0C1054.7,405.4 1055.8,404.6 1056.7,405.4C1057.6,406.2 1057.4,408.7 1059.0,409.9C1060.5,411.2 1063.3,412.1 1065.7,412.9C1068.1,413.7 1070.5,414.1 1073.2,414.7C1076.0,415.4 1080.8,416.6 1082.3,417.0"/>
<path class="c" stroke="#1a7a78" d="M749.2,425.0C752.7,424.8 761.7,424.5 770.2,424.2C778.8,424.0 791.5,423.8 800.3,423.5C809.1,423.2 816.6,422.7 822.9,422.4C829.1,422.1 833.6,421.8 837.9,421.5C842.2,421.2 845.4,420.8 848.4,420.4C851.5,420.1 853.7,420.0 856.0,419.6C858.3,419.2 860.0,418.7 862.0,418.1C864.0,417.6 866.3,416.9 868.0,416.2C869.8,415.6 871.1,414.9 872.6,414.0C874.1,413.0 875.7,411.8 877.1,410.6C878.4,409.4 879.7,408.2 880.8,406.8C882.0,405.5 883.0,403.5 883.8,402.3C884.7,401.2 885.2,400.5 886.1,400.1C887.0,399.6 888.1,400.1 889.1,399.7C890.1,399.3 891.1,398.8 892.1,397.8C893.1,396.9 894.2,395.9 895.1,394.1C896.0,392.2 896.6,389.3 897.4,386.5C898.1,383.8 898.8,380.5 899.5,377.4C900.3,374.3 900.9,371.1 901.7,367.8C902.4,364.5 903.1,361.1 903.8,357.6C904.6,354.1 905.3,350.8 906.1,347.1C906.8,343.3 907.7,338.5 908.4,335.0C909.0,331.6 909.6,329.0 910.2,326.2C910.8,323.4 911.2,321.4 911.9,318.3C912.6,315.1 913.5,311.2 914.4,307.1C915.3,303.0 916.4,298.1 917.4,293.6C918.4,289.1 919.4,284.3 920.4,280.1C921.4,275.8 922.5,271.5 923.4,268.1C924.3,264.6 925.1,262.0 925.8,259.6C926.5,257.1 926.9,255.3 927.5,253.3C928.1,251.3 928.7,249.5 929.4,247.7C930.1,245.9 930.9,243.7 931.6,242.4C932.4,241.1 933.2,240.4 933.9,239.8C934.7,239.1 935.5,238.9 936.2,238.7C936.9,238.4 937.4,238.2 938.0,238.3C938.7,238.3 939.4,238.6 939.9,239.0C940.5,239.5 940.9,240.0 941.4,240.9C942.0,241.8 942.7,243.4 943.3,244.7C943.9,245.9 944.6,247.2 945.2,248.4C945.8,249.7 946.1,251.0 946.7,252.2C947.3,253.3 948.0,254.3 948.6,255.2C949.1,256.1 949.5,256.7 950.1,257.7C950.6,258.7 951.3,259.8 952.0,261.3C952.6,262.8 953.5,264.7 954.2,266.5C955.0,268.4 955.7,270.6 956.5,272.6C957.2,274.6 958.0,276.7 958.7,278.6C959.5,280.4 960.1,281.7 961.0,283.8C961.9,286.0 963.0,288.8 964.0,291.4C965.0,293.9 966.0,296.2 967.0,298.9C968.0,301.5 969.0,304.4 970.0,307.1C971.0,309.9 972.1,313.0 973.0,315.4C973.9,317.9 974.7,319.9 975.5,321.8C976.2,323.7 976.6,325.1 977.3,326.9C978.1,328.8 978.9,330.8 979.8,332.8C980.7,334.8 981.8,337.0 982.8,338.8C983.8,340.6 984.5,341.7 985.8,343.3C987.0,344.9 988.5,346.8 990.3,348.6C992.1,350.3 994.3,351.9 996.3,353.8C998.3,355.7 1000.3,358.0 1002.3,359.9C1004.3,361.7 1006.3,363.6 1008.4,365.1C1010.4,366.6 1012.6,367.8 1014.4,368.9C1016.2,370.0 1017.4,370.7 1019.1,371.8C1020.8,372.9 1022.1,373.9 1024.6,375.4C1027.1,376.9 1030.5,379.0 1034.1,380.6C1037.7,382.2 1042.2,383.7 1046.2,385.1C1050.2,386.5 1054.2,387.7 1058.2,388.9C1062.2,390.0 1065.7,390.8 1070.2,391.9C1074.7,393.0 1080.2,394.3 1085.3,395.6C1090.3,397.0 1095.3,398.6 1100.3,400.1C1105.3,401.7 1110.3,403.4 1115.3,404.7C1120.4,405.9 1127.4,406.9 1130.4,407.7C1133.4,408.5 1132.9,409.2 1133.4,409.5"/>
<text class="ti" x="977.0" y="101.0" text-anchor="middle">Cond1 tendon</text>
<text class="ax" x="1019.5" y="482.8" text-anchor="middle">Strain (%)</text>
<text class="ay" transform="translate(715.9,275.3) rotate(-90)" text-anchor="middle">Stress (MPa)</text>
<text class="tk" x="874.1" y="431.1" text-anchor="end">0</text>
<text class="tk" x="874.1" y="401.4" text-anchor="end">5</text>
<text class="tk" x="874.1" y="371.6" text-anchor="end">10</text>
<text class="tk" x="874.1" y="341.9" text-anchor="end">15</text>
<text class="tk" x="874.1" y="312.2" text-anchor="end">20</text>
<text class="tk" x="874.1" y="282.4" text-anchor="end">25</text>
<text class="tk" x="874.1" y="252.7" text-anchor="end">30</text>
<text class="tk" x="874.1" y="223.0" text-anchor="end">35</text>
<text class="tk" x="874.1" y="193.2" text-anchor="end">40</text>
<text class="tk" x="874.1" y="163.5" text-anchor="end">45</text>
<text class="tk" x="701.8" y="453.0" text-anchor="middle">-1</text>
<text class="tk" x="795.6" y="453.0" text-anchor="middle">-0,5</text>
<text class="tk" x="889.4" y="453.0" text-anchor="middle">0</text>
<text class="tk" x="983.2" y="453.0" text-anchor="middle">0,5</text>
<text class="tk" x="1077.0" y="453.0" text-anchor="middle">1</text>
<text class="tk" x="1170.8" y="453.0" text-anchor="middle">1,5</text>
<text class="tk" x="1264.6" y="453.0" text-anchor="middle">2</text>
</g>
<g id="chart3">
<path class="a" d="M1517.0,160.20V432.80M1403.50,426.8H1968.85M1511.00,426.80H1517.0M1511.00,397.27H1517.0M1511.00,367.73H1517.0M1511.00,338.20H1517.0M1511.00,308.67H1517.0M1511.00,279.13H1517.0M1511.00,249.60H1517.0M1511.00,220.07H1517.0M1511.00,190.53H1517.0M1511.00,161.00H1517.0M1404.30,426.8V432.80M1517.05,426.8V432.80M1629.80,426.8V432.80M1742.55,426.8V432.80M1855.30,426.8V432.80M1968.05,426.8V432.80"/>
<path class="c" stroke="#06067f" d="M1487.3,426.9C1488.4,426.8 1491.9,426.7 1494.1,426.4C1496.2,426.2 1498.1,426.0 1500.1,425.5C1502.1,425.1 1504.1,424.6 1506.1,423.9C1508.1,423.2 1510.1,422.1 1512.1,421.2C1514.1,420.4 1516.4,419.4 1518.1,418.6C1519.9,417.9 1521.1,417.5 1522.6,416.7C1524.1,416.0 1525.6,415.2 1527.1,414.1C1528.6,413.0 1530.1,411.7 1531.7,410.3C1533.2,409.0 1534.7,407.5 1536.2,405.8C1537.7,404.2 1539.2,402.4 1540.7,400.6C1542.2,398.7 1543.7,396.6 1545.2,394.6C1546.7,392.5 1548.6,390.0 1549.7,388.5C1550.8,387.0 1551.2,386.3 1552.0,385.5C1552.7,384.8 1553.3,384.9 1554.2,384.0C1555.1,383.1 1556.3,381.4 1557.2,380.3C1558.1,379.1 1559.0,378.0 1559.8,376.9C1560.6,375.9 1561.2,375.0 1562.1,374.0C1563.0,372.9 1564.0,371.3 1565.2,370.6C1566.3,369.9 1567.4,369.7 1569.0,369.5C1570.5,369.2 1572.8,369.4 1574.2,369.1C1575.6,368.9 1576.2,368.4 1577.2,368.0C1578.2,367.5 1579.0,367.0 1580.2,366.5C1581.5,366.0 1583.0,365.4 1584.7,365.0C1586.5,364.5 1589.2,364.3 1590.8,363.8C1592.3,363.3 1592.5,362.8 1593.8,361.9C1595.0,361.1 1596.6,360.0 1598.3,358.9C1599.9,357.9 1601.9,357.1 1603.5,355.9C1605.2,354.7 1606.5,353.1 1608.0,351.8C1609.6,350.5 1611.1,349.4 1612.6,348.4C1614.1,347.4 1615.7,346.5 1617.1,345.8C1618.4,345.1 1619.8,344.7 1620.8,344.3C1621.9,343.9 1622.7,343.5 1623.5,343.5C1624.2,343.6 1624.7,344.0 1625.3,344.7C1626.0,345.3 1627.0,346.3 1627.6,347.3C1628.2,348.3 1628.5,349.6 1629.1,350.7C1629.7,351.8 1630.5,352.9 1631.3,354.1C1632.2,355.2 1633.4,356.7 1634.4,357.8C1635.3,359.0 1636.2,360.0 1636.9,361.0C1637.6,362.0 1638.1,362.7 1638.6,363.6C1639.2,364.6 1639.5,365.8 1640.1,366.8C1640.7,367.9 1641.5,368.7 1642.3,369.9C1643.2,371.0 1644.3,372.3 1645.3,373.6C1646.3,374.9 1647.5,376.6 1648.3,377.7C1649.2,378.8 1649.5,379.8 1650.6,380.2C1651.7,380.6 1653.9,380.0 1655.1,380.2C1656.4,380.5 1656.9,381.5 1658.1,381.9C1659.4,382.3 1661.3,382.3 1662.6,382.6C1664.0,383.0 1665.5,383.6 1666.4,384.1C1667.3,384.7 1667.8,384.8 1668.3,386.0C1668.7,387.3 1668.8,390.0 1669.0,391.6C1669.2,393.3 1669.2,394.8 1669.4,396.2C1669.6,397.5 1669.8,398.9 1670.2,399.9C1670.5,401.0 1671.1,401.8 1671.7,402.6C1672.2,403.3 1673.1,403.6 1673.5,404.4C1674.0,405.2 1674.1,406.4 1674.5,407.3C1674.8,408.2 1675.1,409.0 1675.6,409.7C1676.1,410.4 1676.2,410.9 1677.7,411.5C1679.1,412.0 1682.6,412.4 1684.4,413.0C1686.3,413.5 1687.3,414.3 1689.0,414.9C1690.6,415.4 1692.3,415.7 1694.2,416.2C1696.1,416.7 1698.2,417.2 1700.2,417.7C1702.2,418.2 1704.0,418.6 1706.2,419.0C1708.5,419.4 1711.3,419.6 1713.8,420.0C1716.3,420.3 1718.8,420.5 1721.3,420.9C1723.8,421.2 1726.3,421.7 1728.8,422.0C1731.3,422.3 1733.8,422.3 1736.3,422.5C1738.8,422.7 1741.1,423.0 1743.8,423.1C1746.6,423.3 1750.0,423.2 1752.9,423.4C1755.7,423.5 1757.7,423.6 1760.8,423.8C1763.9,424.0 1767.3,424.3 1771.4,424.5C1775.5,424.7 1781.7,425.1 1785.3,425.3C1788.8,425.4 1791.5,425.4 1792.8,425.4"/>
<path class="c" stroke="#e8187f" d="M1512.1,427.0C1515.1,426.9 1524.6,426.3 1530.2,426.0C1535.7,425.7 1540.2,425.4 1545.2,425.2C1550.2,425.1 1555.2,424.9 1560.2,424.9C1565.2,424.9 1569.4,425.3 1575.3,425.4C1581.1,425.5 1589.3,425.4 1595.2,425.4C1601.1,425.4 1605.7,425.3 1610.7,425.2C1615.7,425.1 1620.8,425.0 1625.0,424.9C1629.3,424.8 1632.6,424.7 1636.3,424.6C1640.1,424.5 1643.8,424.5 1647.6,424.5C1651.3,424.5 1655.1,424.4 1658.9,424.6C1662.6,424.7 1667.0,424.9 1670.2,425.1C1673.3,425.3 1673.2,425.5 1677.7,425.6C1682.2,425.7 1688.4,425.9 1697.0,425.9C1705.7,426.0 1716.6,425.9 1729.8,425.9C1743.0,425.9 1765.7,425.7 1776.2,425.7C1786.7,425.7 1790.0,425.7 1792.8,425.7"/>
<path class="c" stroke="#fff21f" d="M1549.0,427.2C1553.3,427.2 1564.8,427.1 1575.3,427.1C1585.8,427.1 1600.7,427.1 1612.0,427.1C1623.2,427.0 1630.4,427.0 1642.6,426.9C1654.8,426.9 1669.3,426.9 1685.2,426.9C1701.1,426.9 1729.0,426.9 1737.8,426.9"/>
<path class="c" stroke="#2cc6f0" d="M1481.3,426.7C1483.2,426.7 1488.2,426.7 1492.6,426.6C1496.9,426.5 1503.3,426.4 1507.6,426.1C1511.8,425.9 1514.9,425.5 1518.1,425.0C1521.4,424.5 1524.1,423.8 1527.1,423.1C1530.1,422.4 1533.2,421.7 1536.2,420.9C1539.2,420.0 1542.2,419.1 1545.2,418.2C1548.2,417.4 1551.2,416.4 1554.2,415.6C1557.2,414.8 1560.2,414.0 1563.2,413.4C1566.2,412.7 1569.3,412.0 1572.3,411.5C1575.3,410.9 1578.5,410.4 1581.3,410.0C1584.0,409.5 1586.5,409.1 1588.8,408.8C1591.1,408.6 1593.1,408.4 1594.8,408.5C1596.6,408.5 1597.6,408.8 1599.3,409.2C1601.1,409.6 1603.6,410.1 1605.3,410.7C1607.1,411.3 1608.3,411.9 1609.8,412.6C1611.4,413.3 1612.7,414.2 1614.4,414.9C1616.0,415.5 1618.0,416.0 1619.8,416.4C1621.7,416.9 1623.5,417.3 1625.7,417.8C1627.8,418.2 1630.2,418.9 1632.6,419.4C1635.0,419.8 1637.6,420.2 1640.1,420.5C1642.6,420.8 1643.8,421.0 1647.6,421.2C1651.3,421.5 1657.6,421.8 1662.6,422.0C1667.6,422.2 1672.7,422.4 1677.7,422.5C1682.7,422.6 1687.7,422.6 1692.7,422.7C1697.7,422.7 1702.7,422.7 1707.7,422.7C1712.8,422.8 1717.8,422.9 1722.8,423.1C1727.8,423.3 1732.1,423.7 1737.8,423.9C1743.5,424.1 1751.8,424.1 1757.0,424.2C1762.2,424.3 1766.0,424.4 1769.2,424.6C1772.4,424.7 1775.1,424.9 1776.2,425.0"/>
<path class="c" stroke="#8c1c5e" d="M1560.2,426.4C1563.4,426.3 1574.0,426.0 1579.0,425.9C1584.0,425.8 1582.2,425.8 1590.3,425.8C1598.4,425.9 1610.3,426.1 1627.8,426.2C1645.2,426.2 1670.0,426.2 1694.8,426.2C1719.5,426.1 1759.9,425.9 1776.2,425.9C1792.6,425.8 1790.0,425.7 1792.8,425.7"/>
<path class="c" stroke="#881210" d="M1512.1,426.9C1513.9,426.7 1519.0,426.1 1522.6,425.8C1526.3,425.4 1530.2,425.0 1533.9,424.6C1537.7,424.2 1541.4,423.9 1545.2,423.5C1549.0,423.1 1553.2,422.7 1556.5,422.5C1559.7,422.3 1561.6,422.2 1564.7,422.2C1567.9,422.3 1571.6,422.5 1575.3,422.7C1578.9,423.0 1582.8,423.3 1586.5,423.5C1590.3,423.7 1594.1,423.8 1597.8,424.0C1601.6,424.2 1605.6,424.5 1609.1,424.6C1612.6,424.8 1615.6,424.9 1618.5,425.0C1621.5,425.2 1623.6,425.4 1626.6,425.6C1629.6,425.8 1631.6,426.1 1636.3,426.3C1641.1,426.5 1648.2,426.6 1655.1,426.6C1662.0,426.7 1668.9,426.8 1677.7,426.8C1686.4,426.8 1702.7,426.9 1707.7,426.9"/>
<path class="c" stroke="#1a7a78" d="M1509.1,426.7C1510.6,426.5 1514.6,425.9 1518.1,425.4C1521.6,424.8 1526.3,424.1 1530.2,423.5C1534.0,422.9 1537.7,422.2 1541.4,421.6C1545.2,421.0 1549.0,420.4 1552.7,419.7C1556.5,419.1 1560.8,418.1 1564.0,417.5C1567.1,416.9 1569.4,416.4 1571.5,416.0C1573.6,415.5 1575.4,415.1 1576.8,414.9C1578.1,414.6 1578.8,414.4 1579.8,414.5C1580.8,414.5 1581.5,415.0 1582.8,415.2C1584.0,415.5 1585.4,415.9 1587.3,416.1C1589.2,416.3 1591.7,416.3 1594.1,416.4C1596.4,416.4 1599.1,416.3 1601.6,416.2C1604.1,416.1 1607.0,415.7 1609.1,415.6C1611.2,415.5 1612.6,415.5 1614.4,415.6C1616.2,415.7 1618.0,416.0 1619.8,416.2C1621.7,416.4 1623.5,416.5 1625.7,416.7C1627.8,416.8 1630.2,416.9 1632.6,417.1C1635.0,417.3 1637.8,417.5 1640.1,417.7C1642.3,418.0 1643.6,418.2 1646.1,418.6C1648.6,419.0 1651.1,419.5 1655.1,420.1C1659.1,420.7 1665.1,421.7 1670.2,422.4C1675.2,423.0 1678.9,423.4 1685.2,423.9C1691.5,424.3 1699.0,424.9 1707.7,425.2C1716.5,425.6 1729.0,425.9 1737.8,426.1C1746.7,426.3 1751.2,426.3 1760.8,426.4C1770.3,426.4 1780.3,426.4 1795.1,426.4C1810.0,426.4 1840.8,426.5 1849.9,426.5"/>
<path class="c" stroke="#1010bc" d="M1486.9,426.7C1487.9,426.6 1490.6,426.4 1492.6,426.1C1494.5,425.8 1496.7,425.5 1498.6,425.0C1500.4,424.5 1502.1,423.7 1503.8,423.1C1505.6,422.5 1507.5,421.9 1509.1,421.2C1510.7,420.6 1512.1,420.1 1513.6,419.4C1515.1,418.6 1516.6,417.7 1518.1,416.7C1519.6,415.7 1521.1,414.7 1522.6,413.4C1524.1,412.0 1525.6,410.6 1527.1,408.8C1528.6,407.1 1530.3,404.7 1531.7,402.8C1533.0,400.9 1534.3,399.4 1535.4,397.6C1536.5,395.7 1537.4,393.4 1538.4,391.5C1539.4,389.7 1540.4,387.9 1541.4,386.3C1542.4,384.7 1543.5,383.4 1544.4,381.8C1545.4,380.1 1546.4,378.2 1547.4,376.3C1548.4,374.5 1549.3,372.5 1550.4,370.6C1551.5,368.6 1552.7,366.3 1553.9,364.6C1555.1,362.8 1556.4,361.5 1557.7,360.1C1558.9,358.7 1560.2,357.3 1561.4,356.3C1562.7,355.4 1563.8,354.9 1565.2,354.4C1566.6,353.9 1568.2,353.3 1569.7,353.3C1571.2,353.3 1572.7,353.8 1574.2,354.2C1575.7,354.6 1577.6,355.2 1578.7,355.9C1579.8,356.7 1580.2,357.5 1581.0,358.6C1581.7,359.6 1582.5,361.1 1583.2,362.3C1584.0,363.6 1584.7,364.7 1585.5,366.1C1586.2,367.5 1587.0,368.8 1587.7,370.6C1588.5,372.4 1589.4,374.6 1590.0,376.6C1590.6,378.6 1591.0,380.5 1591.5,382.6C1592.0,384.8 1592.6,387.3 1593.0,389.4C1593.5,391.5 1593.8,393.5 1594.1,395.4C1594.5,397.3 1594.7,399.2 1594.9,400.7C1595.1,402.1 1594.7,403.3 1595.3,404.1C1595.8,404.8 1597.0,405.0 1598.3,405.2C1599.5,405.4 1601.3,405.3 1602.8,405.3C1604.3,405.4 1606.0,405.3 1607.3,405.6C1608.5,405.8 1609.3,406.2 1610.3,406.7C1611.3,407.1 1612.4,407.8 1613.2,408.3C1614.0,408.7 1614.3,409.0 1615.0,409.4C1615.8,409.8 1616.5,410.2 1617.6,410.5C1618.7,410.9 1620.1,411.2 1621.4,411.4C1622.8,411.7 1624.4,411.6 1625.8,412.0C1627.1,412.4 1628.2,413.0 1629.5,413.7C1630.9,414.4 1632.6,415.7 1634.1,416.4C1635.6,417.0 1636.9,417.3 1638.6,417.7C1640.2,418.1 1642.1,418.6 1643.8,419.0C1645.6,419.4 1647.2,419.8 1649.1,420.1C1651.0,420.4 1652.9,420.8 1655.1,421.0C1657.4,421.3 1660.1,421.3 1662.6,421.6C1665.1,421.9 1667.6,422.5 1670.2,422.7C1672.7,423.0 1675.2,423.2 1677.7,423.4C1680.2,423.5 1682.7,423.6 1685.2,423.7C1687.7,423.8 1690.2,423.8 1692.7,423.9C1695.2,423.9 1697.7,424.0 1700.2,424.1C1702.7,424.2 1705.2,424.5 1707.7,424.6C1710.2,424.8 1712.8,424.9 1715.3,425.0C1717.8,425.1 1720.3,425.1 1722.8,425.2C1725.3,425.3 1727.9,425.4 1730.3,425.5C1732.7,425.6 1735.9,425.7 1737.1,425.8"/>
<text class="ti" x="1731.0" y="101.0" text-anchor="middle">Cond2 tendon</text>
<text class="ax" x="1722.5" y="484.5" text-anchor="middle">Strain (%)</text>
<text class="ay" transform="translate(1412.8,288.3) rotate(-90)" text-anchor="middle">Stress (MPa)</text>
<text class="tk" x="1501.6" y="430.9" text-anchor="end">0</text>
<text class="tk" x="1501.6" y="401.4" text-anchor="end">5</text>
<text class="tk" x="1501.6" y="371.8" text-anchor="end">10</text>
<text class="tk" x="1501.6" y="342.3" text-anchor="end">15</text>
<text class="tk" x="1501.6" y="312.8" text-anchor="end">20</text>
<text class="tk" x="1501.6" y="283.2" text-anchor="end">25</text>
<text class="tk" x="1501.6" y="253.7" text-anchor="end">30</text>
<text class="tk" x="1501.6" y="224.2" text-anchor="end">35</text>
<text class="tk" x="1501.6" y="194.6" text-anchor="end">40</text>
<text class="tk" x="1501.6" y="165.1" text-anchor="end">45</text>
<text class="tk" x="1404.8" y="454.8" text-anchor="middle">-0,5</text>
<text class="tk" x="1517.5" y="454.8" text-anchor="middle">0</text>
<text class="tk" x="1630.3" y="454.8" text-anchor="middle">0,5</text>
<text class="tk" x="1743.0" y="454.8" text-anchor="middle">1</text>
<text class="tk" x="1855.8" y="454.8" text-anchor="middle">1,5</text>
<text class="tk" x="1968.5" y="454.8" text-anchor="middle">2</text>
</g>
<g id="chart4">
<path class="a" d="M100.0,737.20V993.00M99.20,987.1H585.00M94.00,987.10H100.0M94.00,951.51H100.0M94.00,915.93H100.0M94.00,880.34H100.0M94.00,844.76H100.0M94.00,809.17H100.0M94.00,773.59H100.0M94.00,738.00H100.0M100.00,987.1V993.00M180.70,987.1V993.00M261.40,987.1V993.00M342.10,987.1V993.00M422.80,987.1V993.00M503.50,987.1V993.00M584.20,987.1V993.00"/>
<path class="c" stroke="#06067f" d="M174.8,986.7C176.4,986.7 182.1,986.6 184.7,986.2C187.4,985.9 188.9,985.6 190.7,984.8C192.5,983.9 194.0,982.8 195.7,981.3C197.4,979.8 199.0,978.0 200.7,975.8C202.3,973.5 204.2,970.6 205.7,967.8C207.2,965.0 208.3,961.8 209.7,958.8C211.0,955.8 212.5,952.8 213.6,949.9C214.8,946.9 215.6,944.0 216.6,940.9C217.6,937.7 218.6,934.1 219.6,930.9C220.6,927.8 221.7,924.6 222.6,921.9C223.5,919.3 224.2,917.2 224.9,915.2C225.5,913.2 225.8,912.2 226.6,909.9C227.4,907.5 228.4,904.2 229.6,900.9C230.8,897.5 232.4,893.0 233.6,889.9C234.7,886.7 235.6,884.4 236.6,881.9C237.6,879.4 238.6,876.9 239.6,874.9C240.6,872.9 241.6,871.4 242.6,869.9C243.5,868.5 244.3,867.1 245.1,866.5C245.8,865.8 246.4,865.7 247.0,866.1C247.7,866.6 248.5,867.6 249.0,868.9C249.6,870.2 250.0,872.3 250.5,873.9C251.0,875.6 251.4,877.9 252.0,878.9C252.7,879.9 253.6,879.6 254.5,879.9C255.4,880.2 256.7,880.5 257.5,880.9C258.3,881.3 258.7,882.1 259.5,882.4C260.3,882.7 261.5,882.5 262.5,882.9C263.5,883.3 264.7,883.7 265.5,884.9C266.3,886.1 266.8,888.2 267.5,889.9C268.1,891.5 268.8,893.0 269.5,894.9C270.1,896.7 270.9,898.7 271.5,900.9C272.1,903.0 272.4,905.5 273.0,907.8C273.6,910.2 274.2,912.6 275.0,914.8C275.7,917.0 276.5,918.8 277.4,920.8C278.4,922.8 279.3,924.8 280.4,926.8C281.6,928.8 283.1,931.0 284.4,932.8C285.7,934.5 287.1,935.7 288.3,937.0C289.5,938.3 290.7,939.2 291.8,940.5C292.9,941.7 293.7,942.8 294.9,944.4C296.1,945.9 297.7,948.2 298.9,949.9C300.0,951.5 300.7,952.8 301.8,954.3C303.0,955.8 304.5,957.4 305.8,958.8C307.2,960.2 308.5,961.5 309.8,962.8C311.1,964.1 312.6,965.5 313.8,966.8C315.0,968.1 315.8,969.5 316.8,970.8C317.8,972.0 318.6,973.3 319.8,974.3C321.0,975.3 322.3,976.0 323.8,976.8C325.3,977.5 326.9,978.3 328.8,978.8C330.6,979.3 332.6,979.5 334.8,979.8C336.9,980.1 339.2,980.3 341.7,980.6C344.2,980.8 346.7,981.0 349.7,981.3C352.7,981.5 356.3,981.8 359.7,982.0C363.0,982.1 366.3,982.2 369.6,982.4C373.0,982.5 376.3,982.6 379.6,983.0C382.9,983.3 386.3,983.9 389.6,984.2C392.9,984.6 396.2,985.0 399.6,985.2C402.9,985.5 402.2,985.5 409.5,985.5C416.9,985.6 431.8,985.6 443.7,985.8C455.7,985.9 464.5,986.1 481.1,986.2C497.8,986.3 533.2,986.4 543.6,986.4"/>
<path class="c" stroke="#fff21f" d="M124.9,986.7C126.6,986.7 132.2,986.6 134.9,986.2C137.5,985.9 139.0,985.5 140.9,984.8C142.7,984.0 144.2,983.2 145.8,981.8C147.5,980.3 149.3,978.1 150.8,975.8C152.3,973.4 153.7,970.6 154.8,967.8C156.0,965.0 156.8,962.3 157.8,958.8C158.8,955.3 159.9,950.8 160.8,946.9C161.7,942.9 162.5,939.1 163.3,934.9C164.1,930.7 165.1,925.9 165.8,921.9C166.5,918.0 167.0,914.8 167.5,911.2C168.1,907.5 168.6,904.5 169.3,900.1C170.0,895.8 170.9,890.4 171.8,884.9C172.7,879.4 174.0,871.9 174.8,867.0C175.5,862.0 176.1,858.5 176.5,855.4C176.9,852.3 177.0,850.9 177.4,848.3C177.7,845.7 178.2,843.0 178.8,839.8C179.3,836.5 180.1,832.3 180.7,828.8C181.4,825.3 182.1,822.1 182.7,818.8C183.4,815.5 184.1,812.0 184.7,808.8C185.4,805.7 186.0,803.0 186.7,799.9C187.5,796.7 188.4,792.9 189.2,789.9C190.1,786.9 190.8,784.6 191.7,781.9C192.6,779.3 193.7,776.0 194.7,773.9C195.7,771.9 196.7,770.5 197.7,769.5C198.7,768.4 199.8,767.4 200.7,767.5C201.5,767.5 202.0,768.7 202.7,770.0C203.3,771.2 204.1,772.9 204.7,774.9C205.3,776.9 205.8,779.4 206.2,781.9C206.6,784.4 206.8,787.1 207.2,789.9C207.5,792.7 207.8,795.9 208.2,798.9C208.5,801.9 208.8,804.9 209.2,807.8C209.5,810.8 209.8,814.0 210.2,816.8C210.5,819.6 210.7,822.3 211.2,824.8C211.6,827.3 212.1,829.8 212.7,831.8C213.2,833.8 213.9,834.9 214.6,836.8C215.4,838.6 216.3,840.7 217.1,842.7C218.0,844.7 218.9,846.8 219.6,848.7C220.4,850.6 221.0,852.2 221.7,854.0C222.5,855.8 223.3,857.3 224.1,859.7C224.9,862.0 225.7,865.1 226.6,868.0C227.5,870.8 228.6,874.1 229.6,876.9C230.6,879.7 231.6,882.4 232.6,884.9C233.6,887.4 234.6,889.5 235.6,891.9C236.6,894.2 237.6,896.5 238.6,898.9C239.6,901.2 240.7,903.7 241.6,905.8C242.4,908.0 242.9,909.8 243.6,911.8C244.2,913.8 244.7,915.8 245.6,917.8C246.4,919.8 247.4,921.8 248.5,923.8C249.7,925.8 251.0,927.8 252.5,929.8C254.0,931.8 255.7,933.9 257.5,935.7C259.3,937.6 261.5,939.1 263.5,940.7C265.5,942.4 267.5,944.0 269.5,945.7C271.4,947.4 273.3,949.1 275.1,950.7C276.8,952.4 278.4,954.0 280.0,955.4C281.7,956.9 283.3,958.2 284.9,959.3C286.5,960.5 288.2,961.5 289.9,962.3C291.5,963.1 293.2,963.7 294.9,964.3C296.5,964.9 298.2,965.2 299.9,965.8C301.5,966.4 303.2,967.1 304.8,967.8C306.5,968.5 308.2,969.2 309.8,969.8C311.5,970.4 313.1,970.8 314.8,971.3C316.5,971.8 318.0,972.2 319.8,972.8C321.6,973.4 323.8,974.2 325.8,974.8C327.8,975.4 329.8,975.9 331.8,976.3C333.7,976.7 335.7,976.9 337.7,977.3C339.7,977.7 341.7,978.3 343.7,978.8C345.7,979.3 347.7,979.8 349.7,980.3C351.7,980.7 353.7,980.9 355.7,981.3C357.7,981.6 359.3,982.0 361.7,982.2C364.0,982.5 367.0,982.7 369.6,983.0C372.3,983.2 375.0,983.5 377.6,983.8C380.3,984.0 384.3,984.6 385.6,984.8"/>
<path class="c" stroke="#2cc6f0" d="M144.8,986.7C146.3,986.7 151.2,986.5 153.8,986.2C156.5,986.0 158.6,985.8 160.8,985.2C163.0,984.7 164.8,984.0 166.8,982.8C168.8,981.5 170.9,979.8 172.8,977.8C174.6,975.8 176.3,973.3 177.8,970.8C179.2,968.3 180.4,966.0 181.7,962.8C183.1,959.7 184.4,955.7 185.7,951.8C187.1,948.0 188.4,944.0 189.7,939.9C191.0,935.7 192.4,931.1 193.7,926.9C195.0,922.8 196.6,918.5 197.7,915.0C198.8,911.5 199.5,909.1 200.4,905.9C201.3,902.8 202.1,899.7 203.2,896.1C204.2,892.6 205.4,888.4 206.7,884.9C207.9,881.4 209.3,878.3 210.7,874.9C212.0,871.6 213.4,867.7 214.6,865.0C215.8,862.2 217.0,860.3 217.9,858.4C218.8,856.5 219.3,855.4 220.1,853.8C220.9,852.2 221.5,850.4 222.6,848.7C223.7,847.0 225.3,845.1 226.6,843.7C227.9,842.4 229.3,841.6 230.6,840.7C231.9,839.9 233.1,839.4 234.6,838.8C236.1,838.1 238.1,836.8 239.6,836.8C241.1,836.8 242.2,838.2 243.6,838.8C244.9,839.3 246.2,839.9 247.5,840.2C248.9,840.6 250.2,840.5 251.5,840.9C252.9,841.4 254.2,841.9 255.5,842.7C256.9,843.5 258.2,844.4 259.5,845.7C260.8,847.1 262.5,849.2 263.5,850.7C264.5,852.2 265.1,853.4 265.7,854.5C266.3,855.7 266.6,856.2 267.1,857.7C267.7,859.1 268.3,860.9 269.0,863.0C269.6,865.0 270.4,867.4 271.0,869.9C271.6,872.4 272.0,875.3 272.5,877.9C273.0,880.6 273.5,883.2 274.0,885.9C274.5,888.5 274.9,891.0 275.5,893.9C276.0,896.7 276.9,899.9 277.4,902.8C278.0,905.8 278.5,908.8 278.9,911.8C279.4,914.8 279.9,918.0 280.4,920.8C280.8,923.7 281.2,926.0 281.6,928.9C281.9,931.7 282.2,934.7 282.4,937.9C282.6,941.1 282.5,944.9 282.7,947.9C282.9,950.9 283.0,953.5 283.4,955.8C283.8,958.2 284.2,960.0 284.9,961.8C285.6,963.6 286.9,965.3 287.9,966.8C288.9,968.3 289.7,969.8 290.9,970.8C292.0,971.8 293.7,972.2 294.9,972.8C296.0,973.4 297.0,973.6 297.9,974.3C298.7,974.9 298.9,976.1 299.9,976.8C300.8,977.4 302.2,977.8 303.8,978.3C305.5,978.7 307.5,979.1 309.8,979.5C312.1,979.8 315.1,980.0 317.8,980.3C320.5,980.5 323.1,980.7 325.8,981.0C328.4,981.2 331.1,981.5 333.8,981.8C336.4,982.0 339.4,982.1 341.7,982.2C344.0,982.4 346.5,982.3 347.7,982.8C349.0,983.2 348.9,983.8 349.2,984.8C349.5,985.7 349.4,987.7 349.4,988.2"/>
<path class="c" stroke="#8c1c5e" d="M99.8,986.7C101.0,986.7 104.8,986.6 107.0,986.2C109.2,985.9 111.1,985.7 113.0,984.8C114.8,983.8 116.4,982.3 117.9,980.8C119.4,979.3 120.6,977.8 121.9,975.8C123.2,973.8 124.6,971.6 125.9,968.8C127.2,966.0 128.6,962.6 129.9,958.8C131.2,955.0 132.7,950.0 133.9,945.9C135.0,941.7 135.9,937.9 136.9,933.9C137.9,929.9 138.8,926.1 139.9,921.9C140.9,917.7 142.0,913.4 143.1,908.7C144.2,903.9 145.5,898.5 146.6,893.4C147.7,888.3 148.8,882.8 149.8,877.9C150.9,873.0 152.0,867.9 152.8,864.0C153.7,860.0 154.4,857.2 155.1,854.4C155.7,851.6 155.9,850.0 156.6,847.0C157.2,844.1 157.9,840.6 158.8,836.8C159.7,832.9 160.8,827.9 161.8,823.8C162.8,819.6 163.8,815.5 164.8,811.8C165.8,808.2 166.8,805.0 167.8,801.9C168.8,798.7 169.8,795.4 170.8,792.9C171.8,790.4 172.8,788.6 173.8,786.9C174.8,785.2 175.6,783.5 176.8,782.4C177.9,781.3 179.4,781.0 180.7,780.4C182.1,779.9 183.4,779.3 184.7,779.2C186.1,779.1 187.6,779.4 188.7,779.7C189.9,780.1 191.0,780.6 191.7,781.4C192.5,782.3 192.7,783.3 193.2,784.9C193.7,786.5 194.1,788.9 194.7,790.9C195.3,792.9 196.0,795.0 196.7,796.9C197.4,798.7 198.0,800.0 198.7,801.9C199.4,803.7 200.0,806.0 200.7,807.8C201.3,809.7 202.0,811.2 202.7,812.8C203.3,814.5 204.0,816.0 204.7,817.8C205.3,819.6 206.0,821.8 206.7,823.8C207.3,825.8 208.0,827.8 208.7,829.8C209.3,831.8 210.0,833.8 210.7,835.8C211.3,837.8 212.0,839.9 212.7,841.7C213.3,843.6 214.0,845.1 214.6,846.7C215.3,848.3 215.8,849.7 216.6,851.2C217.4,852.7 218.5,854.1 219.4,855.6C220.2,857.2 221.0,858.7 221.7,860.4C222.5,862.1 223.5,863.9 224.1,866.0C224.8,868.0 225.1,870.4 225.6,872.9C226.1,875.4 226.6,878.3 227.1,880.9C227.6,883.6 228.2,886.4 228.6,888.9C229.0,891.4 229.2,893.5 229.6,895.9C230.0,898.2 230.5,900.5 231.1,902.8C231.7,905.2 232.3,907.8 233.1,909.8C233.8,911.8 234.7,913.1 235.6,914.8C236.5,916.5 237.6,918.3 238.6,919.8C239.6,921.3 240.6,922.6 241.6,923.8C242.6,924.9 243.6,925.6 244.6,926.8C245.5,927.9 246.4,929.4 247.5,930.8C248.7,932.1 250.0,933.4 251.5,934.8C253.0,936.1 254.7,937.6 256.5,938.7C258.3,939.9 260.5,940.9 262.5,941.7C264.5,942.6 266.5,943.2 268.5,943.7C270.5,944.2 272.5,944.3 274.5,944.7C276.5,945.1 278.6,945.6 280.4,946.2C282.3,946.9 284.2,947.8 285.8,948.6C287.4,949.4 288.8,950.1 290.3,950.8C291.8,951.5 292.9,952.3 294.9,952.8C296.8,953.4 299.7,953.7 301.8,954.0C304.0,954.4 305.8,954.5 307.8,954.8C309.8,955.2 311.5,956.1 313.8,956.3C316.1,956.6 319.1,956.1 321.8,956.3C324.4,956.6 327.4,957.5 329.8,957.8C332.1,958.2 333.7,958.0 335.7,958.3C337.7,958.7 339.9,959.2 341.7,959.8C343.5,960.5 345.2,961.4 346.7,962.3C348.2,963.2 349.2,964.3 350.7,965.3C352.2,966.3 354.0,967.4 355.7,968.3C357.3,969.2 358.8,970.0 360.7,970.8C362.5,971.6 364.5,972.5 366.6,973.3C368.8,974.0 371.1,974.7 373.6,975.3C376.1,975.9 379.0,976.5 381.6,977.0C384.3,977.5 386.6,977.9 389.6,978.3C392.6,978.7 396.2,979.0 399.6,979.3C402.9,979.6 406.2,979.8 409.5,980.1C412.8,980.3 416.2,980.5 419.5,980.8C422.8,981.0 426.5,981.3 429.5,981.6C432.5,981.8 435.6,982.1 437.4,982.2C439.3,982.4 439.9,982.4 440.4,982.8C441.0,983.1 440.6,984.0 440.6,984.2"/>
<path class="c" stroke="#881210" d="M117.9,986.9C122.4,986.9 135.4,986.7 144.8,986.5C154.3,986.4 166.5,986.3 174.8,986.2C183.1,986.1 189.7,986.1 194.7,985.9C199.7,985.8 202.0,985.5 204.7,985.2C207.3,985.0 208.8,984.8 210.7,984.2C212.5,983.7 214.0,983.0 215.6,981.8C217.3,980.5 219.1,978.6 220.6,976.8C222.1,974.9 223.3,973.3 224.6,970.8C225.9,968.3 227.4,964.8 228.6,961.8C229.8,958.8 230.6,956.2 231.6,952.8C232.6,949.5 233.7,945.2 234.6,941.9C235.4,938.5 235.9,936.1 236.6,932.9C237.2,929.7 237.9,926.1 238.6,922.9C239.2,919.8 239.7,917.1 240.3,914.2C240.9,911.2 241.4,908.9 242.1,905.4C242.8,901.8 243.6,897.3 244.6,892.9C245.5,888.5 246.5,883.6 247.5,878.9C248.5,874.3 249.7,868.8 250.5,865.0C251.4,861.1 252.2,858.4 252.8,855.9C253.4,853.5 253.6,852.5 254.0,850.3C254.5,848.1 254.9,845.5 255.5,842.7C256.1,840.0 256.8,836.8 257.5,833.8C258.2,830.8 258.8,827.8 259.5,824.8C260.2,821.8 260.8,818.6 261.5,815.8C262.2,813.0 262.8,810.5 263.5,807.8C264.2,805.2 264.7,802.9 265.5,799.9C266.3,796.9 267.5,792.7 268.5,789.9C269.5,787.1 270.5,785.2 271.5,782.9C272.5,780.6 273.5,778.1 274.5,775.9C275.5,773.8 276.5,771.7 277.4,770.0C278.4,768.2 279.4,766.6 280.4,765.5C281.4,764.4 282.4,763.6 283.4,763.5C284.4,763.3 285.5,763.7 286.4,764.5C287.4,765.2 288.3,766.7 289.0,768.1C289.8,769.5 290.3,770.9 290.9,772.7C291.4,774.5 291.9,776.7 292.4,778.9C292.9,781.1 293.4,783.6 293.9,785.9C294.4,788.2 294.8,790.7 295.4,792.9C295.9,795.0 296.8,796.9 297.4,798.9C297.9,800.9 298.4,802.9 298.9,804.9C299.3,806.8 299.5,808.7 299.9,810.8C300.2,813.0 300.5,815.5 300.9,817.8C301.2,820.1 301.4,822.6 301.8,824.8C302.3,826.9 302.8,828.8 303.3,830.8C303.9,832.8 304.6,834.8 305.3,836.8C306.1,838.7 307.1,840.7 307.8,842.7C308.6,844.7 309.2,846.8 309.8,848.7C310.4,850.6 310.9,852.3 311.4,854.0C311.9,855.8 312.2,857.2 312.8,859.2C313.4,861.1 314.0,863.5 314.8,866.0C315.6,868.4 316.8,871.3 317.8,873.9C318.8,876.6 319.8,879.4 320.8,881.9C321.8,884.4 322.9,886.7 323.8,888.9C324.6,891.0 325.2,892.7 325.8,894.9C326.4,897.0 326.8,899.5 327.3,901.8C327.8,904.2 328.3,906.5 328.8,908.8C329.3,911.1 329.7,913.6 330.3,915.8C330.8,918.0 331.5,919.6 332.2,921.8C333.0,923.9 333.9,926.6 334.8,928.8C335.6,930.9 336.4,933.1 337.2,934.8C338.1,936.4 338.7,937.4 339.7,938.7C340.8,940.1 342.4,941.4 343.7,942.7C345.1,944.1 346.3,945.6 347.7,946.7C349.1,947.8 350.7,948.6 351.9,949.5C353.2,950.4 354.1,951.2 355.4,952.2C356.7,953.2 358.0,954.4 359.7,955.3C361.4,956.3 363.5,957.1 365.6,957.8C367.8,958.6 370.3,959.1 372.6,959.8C375.0,960.6 377.1,961.5 379.6,962.3C382.1,963.1 384.9,964.1 387.6,964.8C390.2,965.5 392.9,965.9 395.6,966.6C398.2,967.3 400.9,968.1 403.5,968.8C406.2,969.5 408.9,970.2 411.5,970.8C414.2,971.4 416.8,971.8 419.5,972.3C422.1,972.8 424.8,973.4 427.5,973.8C430.1,974.2 433.1,974.4 435.4,974.8C437.8,975.1 439.7,975.6 441.7,975.9C443.6,976.2 444.7,976.3 447.1,976.6C449.6,976.9 452.8,977.3 456.4,977.7C459.9,978.0 464.4,978.4 468.4,978.7C472.4,979.1 475.9,979.3 480.4,979.6C485.0,980.0 490.5,980.4 495.5,980.7C500.5,981.0 505.5,981.2 510.5,981.4C515.5,981.7 520.0,982.0 525.6,982.2C531.1,982.4 540.6,982.7 543.6,982.8"/>
<path class="c" stroke="#1a7a78" d="M99.8,986.9C102.3,986.9 111.4,986.9 114.9,986.5C118.5,986.2 119.1,985.9 120.9,984.8C122.7,983.6 124.2,981.8 125.9,979.8C127.6,977.8 129.4,975.3 130.9,972.8C132.4,970.3 133.5,967.8 134.9,964.8C136.2,961.8 137.5,958.7 138.9,954.8C140.2,951.0 141.5,946.4 142.9,941.9C144.2,937.4 145.6,932.6 146.8,927.9C148.1,923.3 149.4,918.3 150.6,913.9C151.7,909.5 152.8,905.6 153.8,901.6C154.9,897.6 155.8,893.7 156.8,889.9C157.8,886.1 158.8,882.2 159.8,878.9C160.8,875.6 161.8,872.6 162.8,869.9C163.8,867.3 164.6,865.1 165.8,863.0C167.0,860.8 168.6,858.7 169.8,857.0C171.0,855.3 172.1,854.0 173.0,852.7C174.0,851.4 174.6,850.4 175.5,849.3C176.5,848.1 177.5,846.6 178.8,845.7C180.0,844.9 181.6,844.4 182.7,844.2C183.9,844.1 184.8,844.3 185.7,844.7C186.6,845.1 187.6,845.7 188.2,846.7C188.8,847.7 188.7,849.4 189.2,850.7C189.7,852.0 190.6,853.6 191.2,854.7C191.9,855.8 192.6,856.2 193.1,857.0C193.6,857.8 193.8,858.3 194.2,859.7C194.6,861.0 195.1,862.7 195.7,865.0C196.3,867.2 197.0,870.8 197.7,872.9C198.4,875.1 198.9,876.6 199.7,877.9C200.5,879.2 201.7,879.8 202.7,880.9C203.7,882.0 204.7,882.9 205.7,884.4C206.7,885.9 207.8,888.0 208.7,889.9C209.5,891.8 209.9,893.9 210.7,895.9C211.4,897.9 212.4,899.7 213.2,901.8C213.9,904.0 214.5,906.5 215.1,908.8C215.8,911.1 216.5,913.3 217.1,915.8C217.8,918.3 218.5,921.1 219.1,923.8C219.7,926.4 220.1,928.9 220.6,931.8C221.2,934.6 221.7,937.5 222.4,940.8C223.0,944.0 223.8,947.8 224.5,951.3C225.2,954.8 225.9,958.7 226.6,961.8C227.3,964.9 227.9,967.6 228.6,969.8C229.3,972.0 229.3,973.6 230.6,974.8C231.9,975.9 234.3,976.1 236.6,976.8C238.9,977.4 241.6,978.1 244.6,978.8C247.5,979.4 251.2,980.1 254.5,980.8C257.8,981.4 261.2,982.2 264.5,982.8C267.8,983.3 271.1,983.8 274.5,984.2C277.8,984.7 282.2,985.0 284.4,985.2C286.7,985.5 287.3,985.7 287.9,985.7"/>
<text class="ti" x="336.2" y="683.6" text-anchor="middle">Native tendon</text>
<text class="ax" x="339.5" y="1055.6" text-anchor="middle">Displacement (mm)</text>
<text class="ay" transform="translate(29.4,889.2) rotate(-90)" text-anchor="middle">Force (N)</text>
<text class="tk" x="84.6" y="993.2" text-anchor="end">0</text>
<text class="tk" x="84.6" y="957.6" text-anchor="end">10</text>
<text class="tk" x="84.6" y="922.0" text-anchor="end">20</text>
<text class="tk" x="84.6" y="886.4" text-anchor="end">30</text>
<text class="tk" x="84.6" y="850.9" text-anchor="end">40</text>
<text class="tk" x="84.6" y="815.3" text-anchor="end">50</text>
<text class="tk" x="84.6" y="779.7" text-anchor="end">60</text>
<text class="tk" x="84.6" y="744.1" text-anchor="end">70</text>
<text class="tk" x="99.7" y="1014.1" text-anchor="middle">0</text>
<text class="tk" x="180.4" y="1014.1" text-anchor="middle">2</text>
<text class="tk" x="261.1" y="1014.1" text-anchor="middle">4</text>
<text class="tk" x="341.8" y="1014.1" text-anchor="middle">6</text>
<text class="tk" x="422.5" y="1014.1" text-anchor="middle">8</text>
<text class="tk" x="503.2" y="1014.1" text-anchor="middle">10</text>
<text class="tk" x="583.9" y="1014.1" text-anchor="middle">12</text>
</g>
<g id="chart5">
<path class="a" d="M818.5,737.20V993.00M817.70,987.1H1304.05M812.50,987.10H818.5M812.50,951.51H818.5M812.50,915.93H818.5M812.50,880.34H818.5M812.50,844.76H818.5M812.50,809.17H818.5M812.50,773.59H818.5M812.50,738.00H818.5M818.50,987.1V993.00M915.45,987.1V993.00M1012.40,987.1V993.00M1109.35,987.1V993.00M1206.30,987.1V993.00M1303.25,987.1V993.00"/>
<path class="c" stroke="#06067f" d="M818.5,986.7C820.4,986.2 826.4,984.8 830.0,983.8C833.5,982.7 836.6,981.5 839.9,980.3C843.3,979.0 847.1,977.4 849.9,976.3C852.7,975.1 854.9,974.3 856.9,973.3C858.9,972.3 860.2,971.3 861.9,970.3C863.5,969.3 865.3,968.0 866.8,967.3C868.3,966.6 869.5,966.5 870.8,966.3C872.2,966.1 873.5,966.7 874.8,966.3C876.2,965.9 877.5,964.5 878.8,963.8C880.1,963.1 881.5,963.5 882.8,962.3C884.1,961.1 885.5,958.7 886.8,956.8C888.1,954.9 889.4,952.8 890.8,950.9C892.1,948.9 893.4,947.0 894.8,944.9C896.1,942.7 897.4,940.2 898.8,937.9C900.1,935.6 901.4,933.4 902.7,930.9C904.1,928.4 905.5,925.3 906.7,922.9C907.9,920.5 909.0,918.4 910.0,916.4C910.9,914.4 911.5,913.2 912.5,911.1C913.4,909.0 914.7,906.4 915.7,903.8C916.7,901.3 917.7,898.2 918.7,895.9C919.7,893.5 920.7,892.2 921.7,889.9C922.7,887.6 923.7,884.4 924.7,881.9C925.7,879.4 926.7,877.1 927.7,874.9C928.7,872.8 929.7,871.3 930.6,868.9C931.6,866.6 932.6,863.5 933.6,861.0C934.6,858.5 935.6,856.2 936.6,853.9C937.6,851.7 938.6,849.9 939.6,847.5C940.6,845.2 941.6,842.0 942.6,839.7C943.6,837.4 944.4,836.1 945.6,833.8C946.8,831.4 948.3,828.1 949.6,825.8C950.9,823.4 952.4,821.8 953.6,819.8C954.7,817.8 955.4,815.6 956.6,813.8C957.7,812.0 959.2,810.3 960.6,808.8C961.9,807.3 963.1,805.9 964.5,804.8C966.0,803.8 967.9,802.9 969.5,802.3C971.2,801.8 973.4,801.6 974.5,801.4C975.7,801.1 975.5,800.8 976.5,800.9C977.5,800.9 979.3,801.2 980.5,801.6C981.7,802.1 982.3,803.3 983.5,803.8C984.7,804.4 986.1,804.3 987.5,804.8C988.8,805.3 990.1,806.0 991.5,806.8C992.8,807.7 994.1,808.5 995.5,809.8C996.8,811.2 998.1,813.1 999.5,814.8C1000.8,816.5 1002.1,818.1 1003.4,819.8C1004.8,821.5 1006.1,823.3 1007.4,824.8C1008.8,826.3 1010.1,827.6 1011.5,828.9C1012.9,830.2 1014.4,831.6 1015.8,832.8C1017.2,833.9 1018.8,834.6 1019.9,835.7C1021.1,836.9 1021.9,838.4 1022.9,839.7C1023.9,841.1 1025.1,842.2 1025.9,843.7C1026.8,845.2 1027.2,847.2 1027.9,848.7C1028.7,850.2 1029.7,851.5 1030.4,852.8C1031.1,854.0 1031.6,854.8 1032.3,856.2C1032.9,857.5 1033.7,859.0 1034.4,861.0C1035.1,862.9 1035.7,865.6 1036.4,868.0C1037.1,870.3 1037.6,872.8 1038.4,874.9C1039.1,877.1 1040.0,878.9 1040.9,880.9C1041.7,882.9 1042.6,885.1 1043.4,886.9C1044.1,888.7 1044.8,890.0 1045.4,891.9C1045.9,893.7 1046.4,895.9 1046.9,897.9C1047.4,899.9 1047.9,901.8 1048.3,903.8C1048.8,905.8 1049.3,907.8 1049.8,909.8C1050.3,911.8 1050.8,913.8 1051.3,915.8C1051.9,917.8 1052.6,920.1 1053.3,921.8C1054.1,923.4 1054.8,924.4 1055.8,925.8C1056.9,927.1 1058.3,928.6 1059.8,929.8C1061.3,930.9 1063.1,931.8 1064.8,932.8C1066.5,933.7 1068.0,934.4 1069.8,935.2C1071.6,936.1 1073.8,936.9 1075.8,937.7C1077.8,938.4 1079.8,939.1 1081.8,939.8C1083.7,940.5 1085.7,941.2 1087.7,941.9C1089.7,942.5 1091.7,943.2 1093.7,943.9C1095.7,944.5 1097.7,945.1 1099.7,945.9C1101.7,946.6 1103.7,947.7 1105.7,948.4C1107.7,949.0 1109.7,949.4 1111.7,949.9C1113.7,950.4 1115.7,950.8 1117.7,951.4C1119.6,951.9 1121.6,952.7 1123.6,953.3C1125.6,954.0 1127.6,954.6 1129.6,955.3C1131.6,956.1 1133.6,957.1 1135.6,957.8C1137.6,958.6 1139.6,959.2 1141.6,959.8C1143.6,960.5 1145.7,961.2 1147.6,961.8C1149.4,962.4 1151.0,963.4 1152.5,963.6C1154.0,963.8 1155.4,962.8 1156.5,963.0C1157.7,963.2 1158.0,964.1 1159.5,964.6C1161.0,965.2 1163.5,965.9 1165.5,966.3C1167.5,966.7 1169.5,966.9 1171.5,967.3C1173.5,967.7 1175.5,968.3 1177.5,968.8C1179.5,969.3 1181.5,969.9 1183.5,970.3C1185.4,970.7 1186.2,970.9 1189.4,971.3C1192.6,971.7 1196.1,972.1 1202.7,972.9C1209.3,973.6 1219.6,974.8 1229.3,975.7C1238.9,976.6 1250.4,977.6 1260.6,978.4C1270.8,979.3 1283.5,980.2 1290.7,980.7C1297.8,981.2 1301.3,981.3 1303.5,981.4"/>
<path class="c" stroke="#e8187f" d="M825.0,986.9C826.6,986.8 831.6,986.7 834.9,986.2C838.3,985.8 841.6,985.1 844.9,984.2C848.2,983.4 851.9,982.3 854.9,981.3C857.9,980.3 860.5,979.2 862.9,978.3C865.2,977.4 867.2,976.4 868.8,975.8C870.5,975.1 871.8,974.5 872.8,974.3C873.8,974.0 873.8,974.9 874.8,974.3C875.8,973.6 877.5,971.5 878.8,970.3C880.1,969.0 881.5,967.9 882.8,966.8C884.1,965.7 885.6,964.4 886.8,963.8C887.9,963.2 888.6,963.8 889.8,963.3C890.9,962.8 892.4,961.9 893.8,960.8C895.1,959.7 896.4,958.3 897.8,956.8C899.1,955.3 900.4,953.5 901.7,951.8C903.1,950.2 904.4,948.5 905.7,946.9C907.1,945.2 908.4,943.7 909.7,941.9C911.0,940.0 912.4,937.7 913.7,935.9C915.0,934.1 916.4,932.7 917.7,930.9C919.0,929.1 920.3,926.8 921.7,924.9C923.0,923.1 924.3,921.8 925.7,919.9C927.0,918.1 928.3,915.9 929.7,914.0C931.0,912.0 932.3,910.0 933.6,908.2C935.0,906.4 936.3,904.7 937.6,903.1C939.0,901.6 940.5,900.4 941.6,898.9C942.8,897.3 943.4,895.7 944.6,893.9C945.8,892.0 947.3,890.0 948.6,887.9C949.9,885.7 951.3,883.2 952.6,880.9C953.9,878.6 955.3,876.1 956.6,873.9C957.9,871.8 959.2,870.1 960.6,868.0C961.9,865.8 963.3,863.0 964.5,861.0C965.8,858.9 967.1,857.3 968.3,855.7C969.5,854.0 970.6,852.8 971.8,851.3C973.0,849.8 974.2,848.3 975.5,846.7C976.8,845.1 978.0,843.1 979.5,841.7C981.0,840.3 982.8,839.5 984.5,838.2C986.2,837.0 987.8,835.7 989.5,834.2C991.1,832.8 992.8,831.3 994.5,829.8C996.1,828.2 998.0,826.1 999.5,824.8C1000.9,823.4 1002.1,822.6 1003.4,821.8C1004.8,820.9 1006.2,820.2 1007.6,819.8C1009.0,819.3 1010.4,819.1 1011.8,819.0C1013.2,819.0 1014.6,818.8 1016.0,819.3C1017.3,819.7 1018.8,820.9 1019.9,821.8C1021.1,822.7 1021.9,823.6 1022.9,824.8C1023.9,825.9 1024.9,827.3 1025.9,828.8C1026.9,830.3 1027.9,831.9 1028.9,833.8C1029.9,835.6 1031.0,837.7 1031.9,839.7C1032.8,841.7 1033.7,843.8 1034.4,845.7C1035.1,847.6 1035.4,849.4 1035.9,851.3C1036.4,853.1 1036.8,854.7 1037.3,856.7C1037.7,858.6 1038.0,860.7 1038.4,863.0C1038.7,865.2 1039.0,867.4 1039.4,869.9C1039.7,872.4 1040.0,875.3 1040.4,877.9C1040.7,880.6 1041.1,883.2 1041.4,885.9C1041.6,888.5 1041.7,891.2 1041.9,893.9C1042.1,896.5 1042.5,899.2 1042.7,901.8C1042.9,904.5 1043.0,907.2 1043.1,909.8C1043.2,912.5 1043.2,915.3 1043.4,917.8C1043.6,920.3 1044.0,922.6 1044.4,924.8C1044.8,926.9 1045.2,928.8 1045.9,930.8C1046.5,932.7 1047.3,934.7 1048.1,936.5C1048.9,938.3 1049.9,940.0 1050.8,941.6C1051.8,943.1 1052.7,944.6 1053.8,945.9C1055.0,947.2 1056.5,948.4 1057.8,949.4C1059.2,950.3 1060.5,951.0 1061.8,951.8C1063.1,952.7 1064.5,953.4 1065.8,954.3C1067.1,955.3 1068.5,956.2 1069.8,957.3C1071.1,958.4 1072.8,959.9 1073.8,960.8C1074.8,961.7 1074.9,962.2 1075.8,962.8C1076.6,963.4 1077.6,964.0 1078.8,964.3C1079.9,964.6 1081.3,964.4 1082.8,964.8C1084.2,965.2 1086.2,966.1 1087.7,966.8C1089.2,967.5 1090.4,968.1 1091.7,968.8C1093.0,969.5 1094.4,970.4 1095.7,970.8C1097.0,971.2 1098.0,971.1 1099.7,971.3C1101.4,971.5 1103.7,971.6 1105.7,972.0C1107.7,972.3 1109.7,972.9 1111.7,973.3C1113.7,973.7 1115.7,974.0 1117.7,974.3C1119.6,974.6 1121.6,974.7 1123.6,975.0C1125.6,975.2 1127.6,975.5 1129.6,975.8C1131.6,976.0 1133.6,976.3 1135.6,976.6C1137.6,976.8 1139.6,977.0 1141.6,977.3C1143.6,977.6 1145.6,978.0 1147.6,978.3C1149.6,978.6 1151.5,978.7 1153.5,979.0C1155.5,979.2 1157.2,979.3 1159.5,979.6C1161.8,979.8 1164.8,980.0 1167.5,980.3C1170.2,980.5 1172.8,980.7 1175.5,981.0C1178.1,981.2 1181.3,981.4 1183.5,981.6C1185.6,981.7 1187.6,981.9 1188.4,982.0"/>
<path class="c" stroke="#fff21f" d="M839.9,984.8C841.6,984.2 847.1,982.6 849.9,981.8C852.7,980.9 854.7,980.6 856.9,979.8C859.0,978.9 861.0,978.1 862.9,976.8C864.7,975.4 866.3,973.5 867.8,971.8C869.3,970.0 870.3,967.6 871.8,966.3C873.3,965.0 875.0,964.7 876.8,963.8C878.6,962.9 881.1,962.3 882.8,960.8C884.5,959.3 885.6,957.0 886.8,954.8C887.9,952.7 888.8,950.4 889.8,947.9C890.8,945.4 891.8,942.4 892.8,939.9C893.8,937.4 894.8,935.4 895.8,932.9C896.8,930.4 897.9,927.4 898.8,924.9C899.6,922.5 900.3,920.2 901.0,918.2C901.7,916.1 901.9,915.2 902.7,912.8C903.5,910.5 904.7,907.0 905.7,903.8C906.7,900.7 907.7,897.2 908.7,893.9C909.7,890.5 910.7,887.1 911.7,883.9C912.7,880.7 913.7,877.8 914.7,874.9C915.7,872.1 916.7,869.3 917.7,867.0C918.7,864.6 919.6,862.9 920.7,861.0C921.7,859.0 922.8,857.5 923.9,855.4C925.1,853.3 926.4,851.0 927.7,848.5C928.9,846.1 930.3,843.0 931.6,840.7C933.0,838.4 934.3,836.4 935.6,834.8C937.0,833.1 938.3,831.8 939.6,830.8C941.0,829.8 942.3,829.4 943.6,828.8C944.9,828.1 946.3,827.4 947.6,826.8C948.9,826.1 950.4,825.3 951.6,825.0C952.8,824.6 953.6,824.5 954.6,824.8C955.6,825.1 956.6,825.8 957.6,826.8C958.6,827.8 959.6,829.6 960.6,830.8C961.6,831.9 962.6,832.9 963.5,833.8C964.5,834.6 965.6,834.7 966.5,835.7C967.5,836.7 968.5,838.1 969.5,839.7C970.5,841.4 971.6,843.8 972.5,845.7C973.5,847.6 974.4,849.4 975.3,851.0C976.1,852.7 976.9,854.0 977.8,855.7C978.6,857.3 979.6,858.9 980.5,861.0C981.4,863.0 982.3,865.6 983.0,868.0C983.7,870.3 984.4,872.4 985.0,874.9C985.6,877.4 986.0,880.1 986.5,882.9C987.0,885.7 987.6,889.0 988.0,891.9C988.4,894.7 988.7,897.2 989.0,899.9C989.2,902.5 989.3,905.3 989.5,907.8C989.6,910.3 989.8,912.6 990.0,914.8C990.1,917.0 990.1,919.0 990.5,920.8C990.9,922.6 991.6,924.3 992.5,925.8C993.3,927.3 994.5,928.3 995.5,929.8C996.5,931.3 997.3,933.3 998.5,934.8C999.6,936.2 1001.1,937.7 1002.4,938.7C1003.8,939.8 1005.0,940.3 1006.3,941.0C1007.6,941.7 1008.9,942.4 1010.3,943.1C1011.8,943.8 1013.4,944.7 1015.0,945.4C1016.6,946.0 1018.3,946.3 1019.9,946.9C1021.6,947.4 1023.4,948.1 1024.9,948.9C1026.4,949.6 1027.6,950.4 1028.9,951.4C1030.2,952.3 1031.4,953.4 1032.9,954.3C1034.4,955.3 1036.2,956.1 1037.9,956.8C1039.6,957.6 1041.2,958.2 1042.9,958.8C1044.5,959.5 1046.0,960.1 1047.9,960.8C1049.7,961.6 1051.8,962.6 1053.8,963.3C1055.8,964.0 1057.8,964.3 1059.8,964.8C1061.8,965.3 1063.8,965.7 1065.8,966.3C1067.8,966.9 1069.8,967.7 1071.8,968.3C1073.8,968.9 1075.8,969.3 1077.8,969.8C1079.8,970.3 1081.8,970.8 1083.8,971.3C1085.7,971.8 1087.7,972.3 1089.7,972.8C1091.7,973.3 1093.7,973.8 1095.7,974.3C1097.7,974.8 1099.7,975.3 1101.7,975.8C1103.7,976.3 1105.7,976.8 1107.7,977.3C1109.7,977.8 1111.7,978.3 1113.7,978.8C1115.7,979.2 1117.6,979.4 1119.6,979.8C1121.6,980.1 1123.6,980.4 1125.6,980.8C1127.6,981.1 1129.6,981.6 1131.6,982.0C1133.6,982.3 1135.4,982.5 1137.6,982.8C1139.8,983.0 1141.7,983.3 1144.6,983.5C1147.4,983.8 1152.9,984.1 1154.5,984.2"/>
<path class="c" stroke="#2cc6f0" d="M859.9,986.9C861.5,986.8 866.5,986.7 869.8,986.2C873.2,985.8 876.8,985.0 879.8,984.2C882.8,983.5 885.3,982.5 887.8,981.8C890.3,981.0 892.9,980.4 894.8,979.8C896.6,979.1 897.4,978.7 898.8,977.8C900.1,976.9 901.4,975.6 902.7,974.3C904.1,972.9 905.4,971.4 906.7,969.8C908.0,968.2 909.4,966.3 910.7,964.8C912.0,963.3 913.5,961.8 914.7,960.8C915.9,959.8 916.5,959.4 917.7,958.8C918.9,958.2 920.3,958.1 921.7,957.3C923.0,956.6 924.7,955.4 925.7,954.3C926.7,953.3 926.8,952.4 927.7,950.9C928.5,949.3 929.7,946.5 930.6,944.9C931.6,943.2 932.6,942.2 933.6,940.9C934.6,939.5 935.6,938.6 936.6,936.9C937.6,935.2 938.6,933.1 939.6,930.9C940.6,928.8 941.6,926.1 942.6,923.9C943.6,921.8 944.6,920.1 945.6,918.0C946.6,915.8 947.6,913.3 948.6,910.9C949.6,908.5 950.7,906.1 951.8,903.6C953.0,901.1 954.3,898.5 955.6,895.9C956.9,893.2 958.2,890.5 959.6,887.9C960.9,885.2 962.2,882.6 963.5,879.9C964.9,877.2 966.2,874.4 967.5,871.9C968.9,869.4 970.2,867.1 971.5,865.0C972.9,862.8 974.3,860.7 975.5,859.0C976.8,857.3 978.0,855.9 979.0,854.7C980.0,853.4 980.8,852.5 981.8,851.5C982.7,850.5 983.4,849.5 984.5,848.7C985.6,847.9 987.3,847.1 988.5,846.7C989.6,846.3 990.5,846.0 991.5,846.2C992.5,846.4 993.7,846.8 994.5,847.7C995.2,848.6 995.4,850.3 995.8,851.8C996.3,853.3 996.7,854.8 997.2,856.7C997.7,858.5 998.4,860.7 999.0,863.0C999.5,865.2 999.9,867.8 1000.4,869.9C1000.9,872.1 1001.4,874.3 1001.9,875.9C1002.4,877.6 1002.7,878.2 1003.4,879.9C1004.2,881.6 1005.4,883.9 1006.4,885.9C1007.4,887.9 1008.5,890.1 1009.4,891.9C1010.3,893.7 1011.1,895.2 1011.8,896.6C1012.5,898.0 1012.9,898.8 1013.6,900.3C1014.3,901.9 1015.1,903.9 1016.0,905.8C1016.8,907.7 1017.8,909.5 1018.4,911.8C1019.1,914.1 1019.4,917.1 1019.9,919.8C1020.4,922.4 1020.9,925.3 1021.4,927.8C1021.9,930.3 1022.4,932.7 1022.9,934.8C1023.5,936.8 1024.2,938.8 1024.8,940.3C1025.4,941.7 1026.0,942.5 1026.7,943.6C1027.4,944.7 1028.0,945.5 1028.9,946.9C1029.8,948.2 1031.1,950.4 1031.9,951.8C1032.7,953.3 1032.9,954.2 1033.9,955.3C1034.9,956.5 1036.6,957.7 1037.9,958.8C1039.2,959.9 1040.5,960.8 1041.9,961.8C1043.2,962.8 1044.5,964.0 1045.9,964.8C1047.2,965.6 1048.5,966.3 1049.8,966.8C1051.2,967.3 1052.5,967.4 1053.8,967.8C1055.2,968.2 1056.5,968.9 1057.8,969.3C1059.2,969.7 1060.5,969.6 1061.8,970.3C1063.1,971.0 1064.5,972.4 1065.8,973.3C1067.1,974.2 1068.5,975.2 1069.8,975.8C1071.1,976.4 1072.1,976.5 1073.8,976.8C1075.4,977.0 1077.4,977.0 1079.8,977.3C1082.1,977.5 1085.1,977.9 1087.7,978.3C1090.4,978.6 1093.1,978.9 1095.7,979.3C1098.4,979.6 1101.0,980.0 1103.7,980.3C1106.4,980.5 1109.0,980.7 1111.7,981.0C1114.3,981.2 1116.7,981.4 1119.6,981.6C1122.6,981.7 1126.3,981.7 1129.6,981.8C1132.9,981.8 1136.3,981.8 1139.6,982.0C1142.9,982.1 1146.2,982.4 1149.5,982.5C1152.9,982.7 1156.2,982.8 1159.5,983.0C1162.8,983.1 1166.2,983.4 1169.5,983.5C1172.8,983.7 1176.1,983.9 1179.5,984.0C1182.8,984.2 1187.2,984.3 1189.4,984.4C1191.7,984.4 1192.3,984.5 1192.9,984.5"/>
<path class="c" stroke="#8c1c5e" d="M874.8,986.7C876.5,986.7 881.5,986.6 884.8,986.2C888.1,985.9 891.8,985.3 894.8,984.8C897.8,984.2 900.1,983.6 902.7,982.8C905.4,981.9 908.2,980.8 910.7,979.8C913.2,978.8 915.7,977.6 917.7,976.8C919.7,975.9 921.2,975.0 922.7,974.6C924.2,974.2 925.5,974.7 926.7,974.3C927.8,973.8 928.5,972.8 929.7,971.8C930.8,970.8 932.1,969.5 933.6,968.3C935.1,967.1 937.3,965.4 938.6,964.8C940.0,964.2 940.6,965.1 941.6,964.8C942.6,964.5 943.6,963.4 944.6,962.8C945.6,962.2 946.6,962.2 947.6,961.3C948.6,960.5 949.6,959.2 950.6,957.8C951.6,956.4 952.6,954.7 953.6,952.8C954.6,951.0 955.6,948.9 956.6,946.9C957.6,944.9 958.6,942.9 959.6,940.9C960.6,938.9 961.6,936.9 962.6,934.9C963.6,932.9 964.6,931.1 965.5,928.9C966.5,926.7 967.5,924.1 968.5,921.9C969.5,919.8 970.6,918.0 971.5,916.0C972.5,914.0 973.4,911.8 974.3,909.9C975.1,908.0 975.9,906.6 976.8,904.6C977.6,902.6 978.6,900.3 979.5,897.9C980.5,895.4 981.5,892.5 982.5,889.9C983.5,887.2 984.5,884.4 985.5,881.9C986.5,879.4 987.5,876.9 988.5,874.9C989.5,872.9 990.5,871.6 991.5,869.9C992.5,868.3 993.3,866.8 994.5,865.0C995.6,863.1 997.2,860.9 998.5,859.0C999.7,857.0 1000.9,855.2 1001.9,853.4C1003.0,851.6 1003.9,850.0 1004.9,848.0C1006.0,846.1 1007.2,843.7 1008.4,841.7C1009.6,839.7 1011.0,837.8 1012.3,836.0C1013.6,834.2 1014.8,832.5 1016.1,831.0C1017.3,829.5 1018.6,827.8 1019.9,826.8C1021.3,825.7 1022.8,825.2 1023.9,824.8C1025.1,824.4 1025.9,824.2 1026.9,824.3C1027.9,824.4 1028.9,824.7 1029.9,825.3C1030.9,825.9 1031.9,826.5 1032.9,827.8C1033.9,829.0 1034.9,830.8 1035.9,832.8C1036.9,834.7 1037.9,837.6 1038.9,839.7C1039.9,841.9 1041.0,843.7 1041.9,845.7C1042.8,847.7 1043.7,849.9 1044.4,851.5C1045.1,853.2 1045.5,854.3 1046.1,855.7C1046.7,857.1 1047.1,858.3 1047.9,860.0C1048.6,861.7 1049.9,864.1 1050.8,866.0C1051.8,867.8 1052.8,869.1 1053.8,870.9C1054.8,872.8 1055.8,875.1 1056.8,876.9C1057.8,878.7 1058.8,880.2 1059.8,881.9C1060.8,883.6 1062.0,885.2 1062.8,886.9C1063.6,888.6 1064.0,890.4 1064.8,891.9C1065.6,893.4 1066.6,894.4 1067.8,895.9C1069.0,897.4 1070.5,899.4 1071.8,900.9C1073.1,902.3 1074.4,903.5 1075.8,904.8C1077.1,906.2 1078.4,907.6 1079.8,908.8C1081.1,910.1 1082.4,911.2 1083.8,912.3C1085.1,913.4 1086.4,914.4 1087.7,915.3C1089.1,916.2 1090.4,916.9 1091.7,917.8C1093.0,918.7 1094.4,919.6 1095.7,920.8C1097.0,922.0 1098.4,923.5 1099.7,924.8C1101.0,926.1 1102.4,927.8 1103.7,928.8C1105.0,929.8 1106.4,930.1 1107.7,930.8C1109.0,931.4 1110.3,931.8 1111.7,932.8C1113.0,933.7 1114.3,935.2 1115.7,936.2C1117.0,937.2 1118.3,937.8 1119.6,938.7C1121.0,939.6 1122.3,940.9 1123.6,941.7C1125.0,942.6 1126.4,943.2 1127.6,943.9C1128.8,944.5 1129.5,945.0 1130.9,945.7C1132.2,946.4 1133.8,947.1 1135.6,947.9C1137.4,948.6 1139.6,949.5 1141.6,950.4C1143.6,951.2 1145.6,952.1 1147.6,952.8C1149.6,953.6 1151.5,954.2 1153.5,954.8C1155.5,955.5 1157.5,956.2 1159.5,956.8C1161.5,957.5 1163.8,958.0 1165.5,958.8C1167.2,959.7 1168.3,960.8 1169.5,961.8C1170.7,962.8 1171.5,964.2 1172.5,964.8C1173.5,965.4 1174.5,964.8 1175.5,965.3C1176.5,965.8 1177.5,966.9 1178.5,967.8C1179.5,968.7 1180.5,970.0 1181.5,970.8C1182.5,971.5 1183.1,971.8 1184.5,972.3C1185.8,972.8 1187.9,973.3 1189.4,973.8C1191.0,974.3 1192.3,974.8 1193.9,975.3C1195.5,975.9 1196.9,976.4 1198.9,977.1C1201.0,977.7 1203.2,978.6 1206.5,979.2C1209.7,979.8 1216.5,980.4 1218.5,980.7"/>
<path class="c" stroke="#881210" d="M834.9,986.9C836.6,986.8 841.6,986.6 844.9,986.2C848.2,985.9 851.9,985.3 854.9,984.8C857.9,984.2 860.4,983.5 862.9,982.8C865.4,982.0 867.7,981.2 869.8,980.3C872.0,979.3 874.0,978.4 875.8,977.3C877.6,976.2 879.1,975.0 880.8,973.8C882.5,972.5 884.3,971.1 885.8,969.8C887.3,968.5 888.6,967.0 889.8,965.8C890.9,964.6 891.4,963.3 892.8,962.8C894.1,962.3 896.6,963.1 897.8,962.6C898.9,962.1 898.8,960.5 899.8,959.8C900.7,959.1 902.7,959.0 903.7,958.3C904.7,957.7 905.1,957.2 905.7,955.8C906.4,954.4 906.9,952.2 907.7,949.9C908.6,947.5 909.7,944.5 910.7,941.9C911.7,939.2 912.7,936.7 913.7,933.9C914.7,931.1 915.7,927.9 916.7,924.9C917.7,922.0 918.7,919.1 919.7,916.2C920.7,913.2 921.7,910.3 922.7,907.1C923.7,903.9 924.7,900.4 925.7,896.9C926.7,893.3 927.7,889.7 928.7,885.9C929.7,882.1 930.7,877.8 931.6,873.9C932.6,870.1 933.8,866.3 934.6,863.0C935.5,859.7 936.2,857.1 936.9,854.2C937.6,851.2 938.2,848.3 938.9,845.0C939.6,841.8 940.3,838.3 941.1,834.8C941.9,831.2 942.7,827.4 943.6,823.8C944.5,820.1 945.6,816.3 946.6,812.8C947.6,809.3 948.6,805.8 949.6,802.8C950.6,799.9 951.6,797.4 952.6,794.9C953.6,792.4 954.6,790.1 955.6,787.9C956.6,785.7 957.6,783.8 958.6,781.9C959.6,780.0 960.6,778.2 961.6,776.4C962.6,774.7 963.6,772.9 964.5,771.4C965.5,770.0 966.5,769.1 967.5,768.0C968.6,766.8 969.9,765.4 971.0,764.5C972.2,763.5 973.3,763.2 974.5,762.5C975.8,761.7 977.3,760.6 978.5,760.0C979.7,759.4 980.7,759.4 981.5,759.0C982.3,758.6 982.7,757.4 983.5,757.5C984.3,757.6 985.5,758.7 986.5,759.5C987.5,760.2 988.5,761.0 989.5,762.0C990.5,763.0 991.5,764.1 992.5,765.5C993.5,766.8 994.6,768.5 995.5,769.9C996.3,771.4 996.8,772.1 997.5,773.9C998.1,775.8 998.8,778.3 999.5,780.9C1000.1,783.6 1000.8,786.7 1001.4,789.9C1002.1,793.0 1002.8,796.4 1003.4,799.9C1004.1,803.3 1004.8,807.2 1005.4,810.8C1006.1,814.5 1006.8,818.1 1007.4,821.8C1008.1,825.4 1008.7,829.0 1009.4,832.8C1010.1,836.5 1010.8,840.5 1011.5,844.3C1012.3,848.1 1013.1,852.2 1013.9,855.7C1014.8,859.1 1015.6,862.2 1016.5,865.0C1017.3,867.7 1018.1,869.6 1018.9,871.9C1019.8,874.3 1020.6,876.4 1021.4,878.9C1022.3,881.4 1023.2,884.4 1023.9,886.9C1024.7,889.4 1025.1,891.9 1025.9,893.9C1026.8,895.9 1027.9,897.4 1028.9,898.9C1029.9,900.3 1030.7,901.5 1031.9,902.8C1033.1,904.2 1034.6,905.5 1035.9,906.8C1037.2,908.2 1038.6,909.3 1039.9,910.8C1041.2,912.3 1042.5,914.1 1043.9,915.8C1045.2,917.5 1046.5,919.3 1047.9,920.8C1049.2,922.3 1050.5,923.5 1051.8,924.8C1053.2,926.1 1054.5,927.6 1055.8,928.8C1057.2,929.9 1058.5,930.8 1059.8,931.8C1061.1,932.7 1062.5,933.6 1063.8,934.8C1065.1,935.9 1066.5,937.5 1067.8,938.7C1069.1,940.0 1070.1,941.3 1071.8,942.2C1073.4,943.1 1075.8,943.6 1077.8,944.3C1079.8,944.9 1081.8,945.6 1083.8,946.3C1085.7,947.0 1087.7,947.8 1089.7,948.4C1091.7,948.9 1093.7,949.3 1095.7,949.9C1097.7,950.4 1099.7,951.3 1101.7,951.8C1103.7,952.4 1105.7,952.8 1107.7,953.3C1109.7,953.8 1111.7,954.3 1113.7,954.8C1115.7,955.3 1117.6,955.7 1119.6,956.3C1121.6,957.0 1123.6,958.1 1125.6,958.8C1127.6,959.6 1129.6,960.2 1131.6,960.8C1133.6,961.5 1135.6,962.0 1137.6,962.6C1139.6,963.2 1141.6,963.8 1143.6,964.3C1145.6,964.8 1148.1,965.5 1149.5,965.8C1151.0,966.1 1151.7,966.5 1152.5,966.3C1153.4,966.1 1153.9,964.6 1154.5,964.6C1155.2,964.6 1155.7,965.7 1156.5,966.3C1157.4,966.9 1158.4,967.9 1159.5,968.3C1160.7,968.7 1162.5,968.8 1163.5,968.8C1164.5,968.8 1164.7,968.0 1165.5,968.3C1166.3,968.6 1167.2,970.2 1168.5,970.8C1169.8,971.4 1171.7,971.4 1173.5,971.8C1175.3,972.1 1177.5,972.4 1179.5,972.8C1181.5,973.1 1183.4,973.4 1185.4,973.8C1187.4,974.1 1188.3,974.4 1191.4,974.8C1194.6,975.1 1198.4,975.5 1204.2,976.0C1210.0,976.5 1219.1,977.2 1226.0,977.9C1232.9,978.5 1239.8,979.3 1245.6,979.9C1251.3,980.5 1255.6,981.1 1260.6,981.4C1265.6,981.8 1270.6,981.9 1275.6,982.2C1280.7,982.5 1286.0,982.8 1290.7,983.0C1295.3,983.2 1301.3,983.3 1303.5,983.4"/>
<path class="c" stroke="#1a7a78" d="M818.5,986.9C820.4,986.6 826.4,985.6 830.0,984.8C833.5,983.9 836.6,982.9 839.9,981.8C843.3,980.6 847.1,979.2 849.9,977.8C852.7,976.4 855.0,974.9 856.9,973.3C858.7,971.6 859.7,969.2 860.9,967.8C862.0,966.4 862.9,965.6 863.9,964.8C864.8,964.0 865.5,963.2 866.8,962.8C868.2,962.4 870.5,962.8 871.8,962.3C873.2,961.8 873.8,960.3 874.8,959.8C875.8,959.3 877.0,959.7 877.8,959.3C878.6,958.9 879.0,958.6 879.8,957.3C880.6,956.1 881.6,953.9 882.8,951.8C884.0,949.8 885.5,947.2 886.8,944.9C888.1,942.5 889.4,940.2 890.8,937.9C892.1,935.6 893.6,933.1 894.8,930.9C895.9,928.8 896.9,926.9 897.8,924.9C898.6,922.9 899.3,920.7 900.0,918.9C900.7,917.1 900.9,916.4 901.7,914.3C902.5,912.3 903.6,909.7 904.7,906.8C905.9,903.9 907.4,900.4 908.7,896.9C910.1,893.4 911.4,889.2 912.7,885.9C914.0,882.6 915.4,879.9 916.7,876.9C918.0,873.9 919.3,870.8 920.7,868.0C922.0,865.1 923.4,862.2 924.7,860.0C925.9,857.7 927.1,856.2 928.2,854.4C929.2,852.7 930.0,851.1 930.9,849.5C931.8,847.9 932.7,845.8 933.6,844.7C934.6,843.7 935.5,843.5 936.6,843.2C937.8,842.9 939.5,842.9 940.6,842.9C941.8,842.9 942.6,843.3 943.6,843.2C944.6,843.1 945.6,842.2 946.6,842.2C947.6,842.2 948.6,842.7 949.6,843.2C950.6,843.7 951.6,844.5 952.6,845.2C953.6,846.0 954.6,846.9 955.6,847.7C956.6,848.5 957.6,849.5 958.6,850.2C959.6,850.9 960.6,851.6 961.6,852.2C962.5,852.8 963.4,853.1 964.3,853.6C965.2,854.2 966.0,854.8 967.0,855.7C968.1,856.5 969.5,857.6 970.5,859.0C971.6,860.4 972.5,862.1 973.5,864.0C974.5,865.8 975.5,867.9 976.5,869.9C977.5,871.9 978.5,873.8 979.5,875.9C980.5,878.1 981.5,880.7 982.5,882.9C983.5,885.1 984.5,886.9 985.5,888.9C986.5,890.9 987.5,892.9 988.5,894.9C989.5,896.9 990.5,899.0 991.5,900.9C992.5,902.7 993.5,904.3 994.5,905.8C995.5,907.4 996.3,909.0 997.5,910.3C998.6,911.7 1000.1,912.7 1001.4,913.8C1002.8,914.9 1004.1,915.6 1005.4,916.8C1006.7,918.0 1008.0,919.6 1009.3,921.1C1010.6,922.5 1011.9,924.2 1013.3,925.6C1014.8,927.1 1016.3,928.7 1018.0,929.9C1019.6,931.1 1021.3,931.7 1022.9,932.9C1024.6,934.1 1026.3,935.6 1027.9,936.9C1029.6,938.1 1031.2,939.3 1032.9,940.4C1034.6,941.5 1036.2,942.5 1037.9,943.4C1039.6,944.2 1041.2,944.7 1042.9,945.4C1044.5,946.0 1046.2,946.7 1047.9,947.4C1049.5,948.0 1051.2,948.7 1052.8,949.4C1054.5,950.0 1056.2,950.6 1057.8,951.4C1059.5,952.1 1061.1,952.9 1062.8,953.8C1064.5,954.8 1066.1,955.8 1067.8,956.8C1069.5,957.8 1071.1,959.0 1072.8,959.8C1074.4,960.7 1076.1,961.1 1077.8,961.8C1079.4,962.5 1081.1,963.2 1082.8,963.8C1084.4,964.4 1086.1,964.8 1087.7,965.3C1089.4,965.8 1091.2,966.4 1092.7,966.8C1094.2,967.2 1095.5,967.7 1096.7,967.8C1097.9,967.9 1098.9,967.3 1099.7,967.3C1100.5,967.3 1101.0,967.5 1101.7,967.8C1102.4,968.1 1103.0,969.1 1103.7,969.3C1104.4,969.5 1105.1,968.7 1105.7,968.8C1106.3,968.9 1106.7,969.1 1107.2,969.8C1107.7,970.5 1108.1,972.1 1108.7,972.8C1109.3,973.4 1109.7,973.5 1110.7,973.8C1111.7,974.1 1113.2,974.2 1114.7,974.6C1116.2,974.9 1118.0,975.4 1119.6,975.8C1121.3,976.1 1123.0,976.4 1124.6,976.8C1126.3,977.1 1127.9,977.6 1129.6,978.0C1131.3,978.3 1132.9,978.7 1134.6,979.0C1136.3,979.3 1138.1,979.5 1139.6,979.8C1141.1,980.0 1142.9,980.4 1143.6,980.6"/>
<path class="c" stroke="#1010bc" d="M818.5,986.9C826.2,986.9 850.5,986.9 864.9,986.7C879.2,986.6 894.8,986.2 904.7,985.9C914.7,985.6 918.9,985.2 924.7,985.0C930.5,984.7 934.6,984.6 939.6,984.2C944.6,983.9 950.4,983.2 954.6,982.8C958.7,982.3 961.6,981.8 964.5,981.3C967.5,980.7 969.9,979.9 972.5,979.3C975.2,978.6 978.2,978.1 980.5,977.3C982.8,976.4 984.7,975.4 986.5,974.3C988.3,973.2 990.0,972.1 991.5,970.8C993.0,969.5 994.3,967.7 995.5,966.3C996.6,964.9 997.5,963.5 998.5,962.3C999.4,961.1 1000.1,959.7 1000.9,959.3C1001.8,958.9 1002.6,959.7 1003.4,959.8C1004.3,960.0 1005.1,960.7 1005.9,960.3C1006.8,960.0 1007.6,958.5 1008.4,957.8C1009.2,957.1 1009.9,956.8 1010.5,956.2C1011.2,955.6 1011.6,955.1 1012.2,954.1C1012.8,953.0 1013.3,951.7 1014.0,949.9C1014.6,948.0 1015.3,945.2 1016.0,942.9C1016.6,940.5 1017.3,938.2 1018.0,935.9C1018.6,933.6 1019.3,931.4 1019.9,928.9C1020.6,926.4 1021.2,923.6 1021.9,920.9C1022.7,918.3 1023.6,915.7 1024.4,913.0C1025.2,910.2 1026.0,907.5 1026.8,904.5C1027.6,901.4 1028.3,898.1 1029.2,894.7C1030.0,891.2 1030.9,887.5 1031.9,883.9C1032.9,880.3 1033.9,876.6 1034.9,872.9C1035.9,869.3 1037.0,865.3 1037.9,862.0C1038.8,858.7 1039.5,855.9 1040.1,853.2C1040.8,850.4 1041.0,848.3 1041.6,845.5C1042.3,842.8 1043.0,839.9 1043.9,836.7C1044.7,833.6 1045.9,830.1 1046.9,826.8C1047.9,823.4 1048.9,820.0 1049.8,816.8C1050.8,813.6 1051.8,810.7 1052.8,807.8C1053.8,805.0 1054.8,802.5 1055.8,799.9C1056.8,797.2 1057.8,794.0 1058.8,791.9C1059.8,789.7 1060.8,788.3 1061.8,786.9C1062.8,785.5 1063.8,784.2 1064.8,783.4C1065.8,782.6 1066.8,782.3 1067.8,781.9C1068.8,781.5 1069.8,781.1 1070.8,781.1C1071.8,781.1 1073.0,781.4 1073.8,781.9C1074.6,782.4 1075.1,783.3 1075.8,784.4C1076.4,785.5 1077.1,787.1 1077.8,788.4C1078.4,789.6 1079.1,790.5 1079.8,791.9C1080.4,793.3 1080.9,795.4 1081.8,796.9C1082.6,798.4 1083.8,799.6 1084.8,800.9C1085.7,802.1 1086.7,802.8 1087.7,804.3C1088.7,805.8 1089.7,808.1 1090.7,809.8C1091.7,811.6 1092.8,813.0 1093.7,814.8C1094.6,816.6 1095.5,818.8 1096.2,820.8C1097.0,822.8 1097.5,824.8 1098.2,826.8C1099.0,828.8 1099.8,830.9 1100.7,832.8C1101.6,834.6 1102.7,835.7 1103.7,837.7C1104.7,839.7 1105.7,842.6 1106.7,844.7C1107.6,846.9 1108.5,848.6 1109.4,850.5C1110.3,852.5 1111.0,854.3 1111.9,856.4C1112.8,858.5 1113.7,860.7 1114.7,863.0C1115.6,865.2 1116.5,867.6 1117.7,869.9C1118.8,872.3 1120.3,874.6 1121.6,876.9C1123.0,879.2 1124.3,881.6 1125.6,883.9C1126.9,886.2 1128.3,888.7 1129.6,890.9C1130.9,893.0 1132.1,895.0 1133.6,896.9C1135.1,898.7 1136.9,900.3 1138.6,901.8C1140.2,903.3 1141.7,904.5 1143.6,905.8C1145.4,907.2 1147.6,908.3 1149.5,909.8C1151.5,911.3 1153.5,913.2 1155.5,914.8C1157.5,916.4 1159.5,917.9 1161.5,919.3C1163.5,920.7 1165.5,922.1 1167.5,923.3C1169.5,924.4 1171.5,925.3 1173.5,926.3C1175.5,927.3 1177.5,928.3 1179.5,929.3C1181.5,930.3 1183.4,931.3 1185.4,932.2C1187.4,933.2 1189.6,934.0 1191.4,934.8C1193.3,935.5 1194.9,936.1 1196.6,936.8C1198.2,937.5 1199.3,938.0 1201.3,938.8C1203.4,939.7 1205.8,940.9 1208.6,942.0C1211.5,943.1 1214.8,944.3 1218.5,945.4C1222.2,946.4 1226.0,947.4 1230.5,948.4C1235.0,949.4 1240.5,950.2 1245.6,951.4C1250.6,952.5 1255.6,953.9 1260.6,955.1C1265.6,956.4 1270.6,957.8 1275.6,958.9C1280.7,960.0 1286.0,961.0 1290.7,961.9C1295.3,962.8 1301.3,963.8 1303.5,964.1"/>
<text class="ti" x="977.0" y="683.6" text-anchor="middle">Cond1 tendon</text>
<text class="ax" x="1058.1" y="1055.6" text-anchor="middle">Displacement (mm)</text>
<text class="ay" transform="translate(748.4,889.2) rotate(-90)" text-anchor="middle">Force (N)</text>
<text class="tk" x="803.1" y="993.2" text-anchor="end">0</text>
<text class="tk" x="803.1" y="957.6" text-anchor="end">10</text>
<text class="tk" x="803.1" y="922.0" text-anchor="end">20</text>
<text class="tk" x="803.1" y="886.4" text-anchor="end">30</text>
<text class="tk" x="803.1" y="850.9" text-anchor="end">40</text>
<text class="tk" x="803.1" y="815.3" text-anchor="end">50</text>
<text class="tk" x="803.1" y="779.7" text-anchor="end">60</text>
<text class="tk" x="803.1" y="744.1" text-anchor="end">70</text>
<text class="tk" x="818.2" y="1014.1" text-anchor="middle">0</text>
<text class="tk" x="915.2" y="1014.1" text-anchor="middle">2</text>
<text class="tk" x="1012.1" y="1014.1" text-anchor="middle">4</text>
<text class="tk" x="1109.0" y="1014.1" text-anchor="middle">6</text>
<text class="tk" x="1206.0" y="1014.1" text-anchor="middle">8</text>
<text class="tk" x="1303.0" y="1014.1" text-anchor="middle">10</text>
</g>
<g id="chart6">
<path class="a" d="M1509.1,737.20V993.00M1508.30,987.1H1994.55M1503.10,987.10H1509.1M1503.10,951.51H1509.1M1503.10,915.93H1509.1M1503.10,880.34H1509.1M1503.10,844.76H1509.1M1503.10,809.17H1509.1M1503.10,773.59H1509.1M1503.10,738.00H1509.1M1509.10,987.1V993.00M1606.03,987.1V993.00M1702.96,987.1V993.00M1799.89,987.1V993.00M1896.82,987.1V993.00M1993.75,987.1V993.00"/>
<path class="c" stroke="#06067f" d="M1509.0,986.4C1510.0,986.3 1513.1,985.9 1515.0,985.7C1516.8,985.4 1518.3,985.2 1520.0,984.8C1521.6,984.5 1523.3,984.1 1524.9,983.7C1526.6,983.2 1528.3,982.8 1529.9,982.2C1531.6,981.6 1533.2,980.9 1534.9,980.2C1536.6,979.5 1538.2,978.8 1539.9,978.0C1541.6,977.3 1543.2,976.6 1544.9,975.9C1546.5,975.1 1548.2,974.4 1549.9,973.5C1551.5,972.6 1553.2,971.6 1554.8,970.5C1556.5,969.3 1558.5,967.9 1559.8,966.7C1561.2,965.6 1561.7,964.7 1562.9,963.5C1564.0,962.3 1565.1,961.0 1566.6,959.5C1568.0,958.0 1569.8,956.2 1571.5,954.4C1573.1,952.6 1574.9,950.7 1576.5,948.9C1578.0,947.2 1579.5,945.6 1580.9,943.9C1582.4,942.3 1583.9,940.6 1584.9,938.9C1586.0,937.3 1586.4,935.3 1587.4,934.0C1588.4,932.6 1589.8,932.0 1590.9,930.7C1592.0,929.5 1592.7,928.0 1593.9,926.5C1595.1,925.0 1596.5,923.3 1597.8,921.6C1599.2,919.9 1600.8,917.7 1602.1,916.1C1603.4,914.5 1604.4,912.8 1605.7,912.0C1607.0,911.1 1608.2,911.1 1609.7,910.8C1611.2,910.4 1613.2,910.1 1614.7,910.0C1616.2,909.9 1617.3,910.5 1618.7,910.2C1620.0,909.8 1621.3,908.7 1622.7,908.0C1624.0,907.3 1625.3,906.5 1626.6,906.0C1628.0,905.5 1629.3,905.3 1630.6,905.0C1631.9,904.7 1633.1,904.6 1634.6,904.2C1636.1,903.8 1637.9,903.2 1639.6,902.5C1641.3,901.8 1642.9,900.8 1644.6,899.9C1646.2,899.0 1647.9,898.1 1649.6,896.9C1651.2,895.7 1652.9,894.2 1654.5,892.9C1656.2,891.6 1657.9,890.2 1659.5,888.9C1661.2,887.6 1662.9,886.3 1664.5,884.9C1666.2,883.6 1667.8,882.0 1669.5,880.9C1671.2,879.9 1673.0,879.1 1674.5,878.4C1676.0,877.8 1677.3,877.4 1678.5,877.0C1679.6,876.5 1680.5,875.7 1681.5,876.0C1682.5,876.2 1683.5,877.4 1684.5,878.4C1685.4,879.4 1686.2,880.6 1687.0,881.9C1687.7,883.3 1688.2,885.1 1689.0,886.4C1689.7,887.8 1690.5,888.7 1691.4,889.9C1692.4,891.2 1693.4,892.4 1694.4,893.9C1695.4,895.4 1696.4,897.5 1697.4,898.9C1698.4,900.3 1699.6,901.2 1700.4,902.4C1701.2,903.5 1701.7,904.8 1702.3,905.8C1702.8,906.7 1703.1,907.1 1703.7,908.1C1704.3,909.0 1704.9,910.0 1705.9,911.5C1707.0,912.9 1708.6,915.1 1709.9,916.9C1711.2,918.8 1712.9,921.1 1713.9,922.4C1714.9,923.7 1714.9,924.3 1715.9,924.7C1716.9,925.1 1718.6,924.5 1719.9,924.7C1721.2,924.9 1722.5,925.4 1723.9,925.9C1725.2,926.4 1726.5,927.5 1727.9,927.9C1729.2,928.3 1730.5,928.1 1731.8,928.4C1733.2,928.7 1734.7,929.4 1735.8,929.9C1737.0,930.4 1738.1,930.6 1738.8,931.4C1739.6,932.2 1740.0,933.3 1740.3,934.9C1740.7,936.5 1740.7,938.9 1740.8,940.9C1741.0,942.9 1741.2,945.0 1741.3,946.8C1741.5,948.7 1741.5,950.5 1741.8,951.8C1742.1,953.2 1742.6,953.9 1743.3,954.8C1744.0,955.7 1745.1,956.3 1745.8,957.3C1746.5,958.3 1746.9,959.6 1747.3,960.8C1747.7,962.0 1747.9,963.9 1748.3,964.8C1748.7,965.7 1748.7,965.8 1749.8,966.3C1750.9,966.8 1753.1,967.3 1754.8,967.8C1756.4,968.3 1758.1,968.7 1759.8,969.3C1761.4,969.8 1763.1,970.5 1764.8,971.0C1766.4,971.5 1768.1,971.8 1769.7,972.3C1771.4,972.7 1773.1,973.3 1774.7,973.8C1776.4,974.2 1777.9,974.5 1779.7,975.0C1781.5,975.4 1783.7,975.8 1785.7,976.3C1787.7,976.7 1789.7,977.2 1791.7,977.5C1793.7,977.9 1795.7,978.2 1797.7,978.5C1799.6,978.9 1801.6,979.2 1803.6,979.5C1805.6,979.9 1807.6,980.3 1809.6,980.5C1811.6,980.8 1813.6,981.0 1815.6,981.2C1817.6,981.5 1819.3,981.7 1821.6,981.9C1823.9,982.2 1826.6,982.5 1829.5,982.7C1832.5,983.0 1836.2,983.3 1839.5,983.5C1842.8,983.7 1846.2,983.9 1849.5,984.0C1852.8,984.2 1856.1,984.3 1859.5,984.4C1862.8,984.5 1866.2,984.5 1869.4,984.6C1872.7,984.7 1875.8,984.8 1879.0,985.0C1882.2,985.2 1884.8,985.5 1888.6,985.7C1892.4,985.9 1896.8,986.0 1901.5,986.1C1906.1,986.2 1912.3,986.2 1916.5,986.3C1920.8,986.3 1925.3,986.3 1927.0,986.3"/>
<path class="c" stroke="#e8187f" d="M1509.0,984.5C1510.4,984.4 1514.8,984.1 1517.5,984.0C1520.1,983.9 1522.0,983.8 1524.9,983.8C1527.8,983.9 1531.6,984.1 1534.9,984.3C1538.2,984.5 1541.6,984.7 1544.9,984.9C1548.2,985.2 1550.7,985.5 1554.8,985.7C1559.0,985.9 1564.2,986.0 1569.8,986.0C1575.4,986.1 1582.5,986.1 1588.5,986.1C1594.5,986.0 1599.9,986.0 1605.9,985.9C1612.0,985.9 1616.5,985.8 1624.6,985.7C1632.7,985.7 1643.9,985.6 1654.5,985.6C1665.2,985.6 1678.1,985.7 1688.3,985.7C1698.6,985.8 1705.8,985.8 1716.0,985.9C1726.3,985.9 1735.8,986.0 1749.8,986.0C1763.8,986.1 1786.0,986.2 1800.1,986.3C1814.3,986.4 1828.8,986.6 1834.5,986.6"/>
<path class="c" stroke="#fff21f" d="M1524.9,987.2C1528.3,987.2 1537.6,987.1 1544.9,987.1C1552.2,987.1 1561.6,987.1 1568.8,987.1C1576.0,987.0 1581.0,987.0 1588.3,986.9C1595.5,986.9 1602.0,986.8 1612.4,986.7C1622.8,986.7 1640.2,986.6 1650.6,986.5C1661.0,986.5 1668.6,986.5 1674.9,986.5C1681.1,986.5 1685.8,986.5 1688.0,986.5"/>
<path class="c" stroke="#2cc6f0" d="M1520.0,987.2C1522.1,987.1 1529.8,986.9 1532.9,986.7C1536.1,986.4 1536.9,986.0 1538.9,985.7C1540.9,985.3 1542.2,985.0 1544.9,984.4C1547.5,983.9 1551.5,983.0 1554.8,982.4C1558.2,981.8 1561.5,981.5 1564.8,980.8C1568.1,980.2 1571.5,979.4 1574.8,978.4C1578.1,977.5 1581.4,976.2 1584.8,975.0C1588.1,973.7 1591.8,972.0 1594.7,970.7C1597.7,969.4 1599.5,968.5 1602.6,967.0C1605.8,965.5 1610.4,963.2 1613.7,961.8C1617.0,960.3 1619.6,959.4 1622.3,958.4C1625.0,957.4 1627.3,956.6 1629.8,955.9C1632.3,955.1 1634.8,954.5 1637.3,953.9C1639.8,953.3 1642.8,952.8 1644.8,952.4C1646.7,952.0 1648.0,951.4 1649.2,951.4C1650.5,951.4 1651.3,952.1 1652.2,952.3C1653.2,952.5 1654.2,952.4 1655.0,952.6C1655.9,952.8 1656.4,952.9 1657.3,953.3C1658.2,953.7 1659.3,954.3 1660.5,954.8C1661.7,955.4 1663.2,956.0 1664.5,956.8C1665.8,957.7 1667.2,958.8 1668.5,959.8C1669.8,960.8 1671.2,961.9 1672.5,962.8C1673.8,963.7 1675.2,964.6 1676.5,965.3C1677.8,966.0 1679.1,966.7 1680.5,967.3C1681.8,967.9 1683.0,968.4 1684.5,968.8C1686.0,969.2 1687.8,969.3 1689.5,969.8C1691.1,970.3 1693.0,971.2 1694.4,971.8C1695.9,972.3 1697.2,972.7 1698.3,973.0C1699.4,973.4 1700.0,973.6 1701.1,973.9C1702.2,974.2 1703.5,974.6 1704.9,974.8C1706.4,974.9 1708.2,974.9 1709.9,975.0C1711.6,975.0 1713.2,975.0 1714.9,975.1C1716.6,975.2 1718.2,975.4 1719.9,975.6C1721.5,975.8 1723.2,976.0 1724.9,976.3C1726.5,976.5 1728.0,976.7 1729.8,977.0C1731.7,977.2 1733.8,977.5 1735.8,977.8C1737.8,978.0 1739.5,978.2 1741.8,978.4C1744.1,978.5 1747.1,978.4 1749.8,978.5C1752.5,978.6 1755.1,978.8 1757.8,979.0C1760.4,979.1 1763.1,979.1 1765.7,979.2C1768.4,979.4 1771.1,979.4 1773.7,979.5C1776.4,979.7 1779.0,979.8 1781.7,980.0C1784.3,980.1 1786.7,980.2 1789.7,980.3C1792.7,980.4 1796.3,980.5 1799.6,980.5C1803.0,980.6 1806.3,980.7 1809.6,980.7C1812.9,980.8 1816.3,980.8 1819.6,980.9C1822.9,981.0 1826.2,981.2 1829.5,981.3C1832.9,981.5 1836.2,981.8 1839.5,981.9C1842.8,982.1 1846.2,982.2 1849.5,982.3C1852.8,982.5 1856.5,982.6 1859.5,982.7C1862.4,982.9 1865.3,983.0 1867.1,983.1C1868.8,983.2 1869.4,983.2 1869.9,983.2"/>
<path class="c" stroke="#8c1c5e" d="M1520.0,985.9C1521.6,985.8 1526.6,985.4 1529.9,985.2C1533.3,984.9 1535.7,984.6 1539.9,984.5C1544.1,984.5 1549.9,984.7 1554.8,985.0C1559.8,985.3 1565.7,986.1 1569.8,986.4C1574.0,986.7 1576.5,986.8 1579.8,986.9C1583.1,987.1 1588.1,987.3 1589.8,987.3"/>
<path class="c" stroke="#881210" d="M1509.0,985.4C1511.6,985.3 1519.8,985.2 1524.9,984.9C1530.1,984.7 1536.6,984.3 1539.9,983.9C1543.2,983.6 1543.2,983.1 1544.9,982.7C1546.5,982.3 1547.8,981.7 1549.9,981.5C1551.9,981.3 1554.8,981.4 1557.3,981.4C1559.8,981.5 1562.3,981.8 1564.8,981.9C1567.3,982.1 1569.8,982.2 1572.3,982.4C1574.8,982.6 1576.9,982.8 1579.8,983.2C1582.7,983.5 1586.8,984.0 1589.8,984.4C1592.7,984.9 1594.2,985.6 1597.2,985.9C1600.2,986.2 1603.2,986.4 1607.8,986.5C1612.4,986.6 1618.5,986.5 1624.6,986.5C1630.8,986.5 1640.3,986.5 1644.6,986.4C1648.9,986.4 1649.6,986.4 1650.6,986.4"/>
<path class="c" stroke="#1a7a78" d="M1509.0,985.9C1510.8,985.8 1516.5,985.7 1520.0,985.2C1523.5,984.7 1526.6,983.8 1529.9,982.9C1533.3,982.1 1536.6,981.0 1539.9,979.9C1543.2,978.9 1546.5,977.8 1549.9,976.7C1553.2,975.6 1556.9,974.3 1559.8,973.5C1562.7,972.6 1565.6,971.9 1567.3,971.5C1569.0,971.0 1569.0,970.9 1569.8,970.9C1570.6,970.8 1571.5,971.0 1572.3,971.2C1573.1,971.5 1574.0,972.1 1574.8,972.5C1575.6,972.8 1576.0,973.2 1577.3,973.4C1578.5,973.5 1580.6,973.6 1582.3,973.6C1583.9,973.6 1585.6,973.6 1587.2,973.4C1588.9,973.1 1590.7,972.5 1592.2,972.2C1593.7,971.9 1595.0,971.6 1596.2,971.6C1597.5,971.5 1598.6,971.7 1599.7,972.0C1600.8,972.2 1601.7,972.6 1603.0,972.9C1604.2,973.2 1605.6,973.4 1607.2,973.6C1608.8,973.9 1610.8,974.2 1612.7,974.3C1614.6,974.4 1617.0,974.1 1618.7,974.3C1620.3,974.4 1621.3,974.8 1622.7,975.3C1624.0,975.8 1625.3,976.6 1626.6,977.3C1628.0,977.9 1629.3,978.8 1630.6,979.3C1631.9,979.7 1633.3,979.6 1634.6,979.8C1635.9,979.9 1637.3,980.0 1638.6,980.3C1639.9,980.5 1641.3,980.9 1642.6,981.3C1643.9,981.6 1644.9,982.1 1646.6,982.2C1648.2,982.4 1650.6,981.9 1652.6,982.0C1654.6,982.0 1656.5,982.5 1658.5,982.5C1660.5,982.6 1662.5,982.5 1664.5,982.5C1666.5,982.4 1668.8,982.2 1670.5,982.2C1672.2,982.3 1673.3,982.4 1674.5,982.8C1675.7,983.1 1676.5,983.8 1677.5,984.2C1678.5,984.7 1679.3,985.4 1680.5,985.7C1681.6,986.1 1681.9,986.1 1684.5,986.2C1687.0,986.4 1690.5,986.4 1695.8,986.5C1701.1,986.5 1707.0,986.5 1716.0,986.5C1725.0,986.5 1735.8,986.5 1749.8,986.5C1763.8,986.5 1791.7,986.5 1800.1,986.5"/>
<path class="c" stroke="#1010bc" d="M1509.0,987.0C1510.8,987.0 1516.9,987.0 1520.0,986.8C1523.0,986.7 1524.9,986.5 1527.4,986.2C1529.9,985.8 1532.8,985.3 1534.9,984.8C1537.0,984.3 1538.2,983.8 1539.9,983.3C1541.6,982.8 1543.2,982.3 1544.9,981.7C1546.5,981.2 1548.2,980.6 1549.9,979.9C1551.5,979.3 1553.2,978.7 1554.8,978.0C1556.5,977.4 1558.2,976.6 1559.8,975.9C1561.5,975.1 1563.2,974.2 1564.8,973.4C1566.5,972.5 1568.1,971.7 1569.8,970.6C1571.5,969.4 1573.4,967.7 1574.8,966.5C1576.1,965.2 1576.9,964.3 1577.9,963.1C1579.0,962.0 1579.9,960.9 1581.0,959.6C1582.2,958.3 1583.7,956.8 1584.9,955.4C1586.2,953.9 1587.4,952.0 1588.4,950.9C1589.4,949.8 1590.2,949.7 1590.9,948.9C1591.6,948.1 1591.6,947.2 1592.4,945.9C1593.2,944.6 1594.7,942.2 1595.9,940.9C1597.1,939.7 1598.3,939.5 1599.4,938.4C1600.5,937.4 1601.3,936.0 1602.4,934.5C1603.4,932.9 1604.7,930.7 1605.9,929.0C1607.0,927.3 1608.0,925.8 1609.1,924.2C1610.1,922.7 1611.0,921.3 1612.1,919.7C1613.2,918.2 1614.4,916.5 1615.7,915.0C1616.9,913.4 1618.2,912.1 1619.7,910.5C1621.2,908.9 1623.1,906.9 1624.6,905.5C1626.1,904.1 1627.3,903.2 1628.6,902.1C1630.0,901.0 1631.4,900.0 1632.9,899.0C1634.4,898.1 1636.0,897.1 1637.6,896.4C1639.2,895.7 1641.1,895.3 1642.6,894.9C1644.1,894.5 1645.1,894.1 1646.6,894.1C1648.1,894.1 1649.9,894.4 1651.6,894.7C1653.2,895.0 1654.9,895.5 1656.5,895.9C1658.2,896.3 1660.1,896.4 1661.5,896.9C1662.9,897.4 1664.0,897.9 1665.0,898.9C1666.0,899.9 1666.6,901.4 1667.5,902.9C1668.4,904.4 1669.3,906.2 1670.5,907.9C1671.7,909.5 1673.3,911.0 1674.5,912.8C1675.7,914.7 1676.5,916.8 1677.5,918.8C1678.5,920.8 1679.6,922.8 1680.5,924.8C1681.3,926.8 1681.8,928.8 1682.5,930.8C1683.1,932.8 1683.8,934.8 1684.5,936.8C1685.1,938.8 1686.0,940.8 1686.5,942.8C1687.0,944.7 1687.1,946.7 1687.5,948.7C1687.8,950.7 1688.0,953.1 1688.5,954.7C1688.9,956.4 1689.0,957.8 1690.0,958.7C1690.9,959.6 1693.2,959.8 1694.4,960.2C1695.7,960.6 1696.5,960.8 1697.4,960.9C1698.4,961.0 1699.1,960.7 1700.0,960.6C1700.9,960.5 1701.7,960.5 1702.8,960.5C1703.9,960.5 1705.6,960.5 1706.9,960.5C1708.3,960.5 1709.6,960.5 1710.9,960.8C1712.2,961.1 1713.4,961.7 1714.9,962.3C1716.4,962.9 1718.2,963.7 1719.9,964.3C1721.5,964.9 1723.2,965.5 1724.9,966.0C1726.5,966.4 1728.0,966.7 1729.8,967.0C1731.7,967.3 1733.8,967.5 1735.8,967.8C1737.8,968.1 1739.8,968.2 1741.8,968.8C1743.8,969.4 1745.8,970.4 1747.8,971.3C1749.8,972.1 1751.8,973.0 1753.8,973.8C1755.8,974.5 1757.8,975.0 1759.8,975.6C1761.8,976.1 1763.7,976.6 1765.7,977.0C1767.7,977.3 1769.7,977.6 1771.7,978.0C1773.7,978.3 1775.7,978.7 1777.7,979.0C1779.7,979.2 1781.7,979.5 1783.7,979.8C1785.7,980.0 1787.7,980.3 1789.7,980.5C1791.7,980.8 1793.7,980.9 1795.7,981.0C1797.6,981.2 1799.3,981.2 1801.6,981.3C1804.0,981.5 1806.6,981.7 1809.6,981.9C1812.6,982.1 1817.1,982.4 1819.6,982.5C1822.1,982.7 1822.9,982.9 1824.6,982.9C1826.2,983.0 1827.1,982.7 1829.5,982.7C1832.0,982.8 1836.2,983.1 1839.5,983.2C1842.8,983.4 1846.2,983.6 1849.5,983.7C1852.8,983.9 1856.1,984.1 1859.5,984.2C1862.8,984.4 1866.2,984.4 1869.4,984.5C1872.7,984.7 1875.8,984.8 1879.0,985.0C1882.2,985.2 1884.8,985.6 1888.6,985.8C1892.4,986.1 1895.1,986.3 1901.5,986.4C1907.9,986.5 1922.8,986.4 1927.0,986.4"/>
<text class="ti" x="1731.0" y="683.6" text-anchor="middle">Cond2 tendon</text>
<text class="ax" x="1749.6" y="1055.6" text-anchor="middle">Displacement (mm)</text>
<text class="ay" transform="translate(1439.0,889.2) rotate(-90)" text-anchor="middle">Force (N)</text>
<text class="tk" x="1493.7" y="993.2" text-anchor="end">0</text>
<text class="tk" x="1493.7" y="957.6" text-anchor="end">10</text>
<text class="tk" x="1493.7" y="922.0" text-anchor="end">20</text>
<text class="tk" x="1493.7" y="886.4" text-anchor="end">30</text>
<text class="tk" x="1493.7" y="850.9" text-anchor="end">40</text>
<text class="tk" x="1493.7" y="815.3" text-anchor="end">50</text>
<text class="tk" x="1493.7" y="779.7" text-anchor="end">60</text>
<text class="tk" x="1493.7" y="744.1" text-anchor="end">70</text>
<text class="tk" x="1508.8" y="1014.1" text-anchor="middle">0</text>
<text class="tk" x="1605.7" y="1014.1" text-anchor="middle">2</text>
<text class="tk" x="1702.7" y="1014.1" text-anchor="middle">4</text>
<text class="tk" x="1799.6" y="1014.1" text-anchor="middle">6</text>
<text class="tk" x="1896.5" y="1014.1" text-anchor="middle">8</text>
<text class="tk" x="1993.5" y="1014.1" text-anchor="middle">10</text>
</g>
</svg>
</body>
</html>
